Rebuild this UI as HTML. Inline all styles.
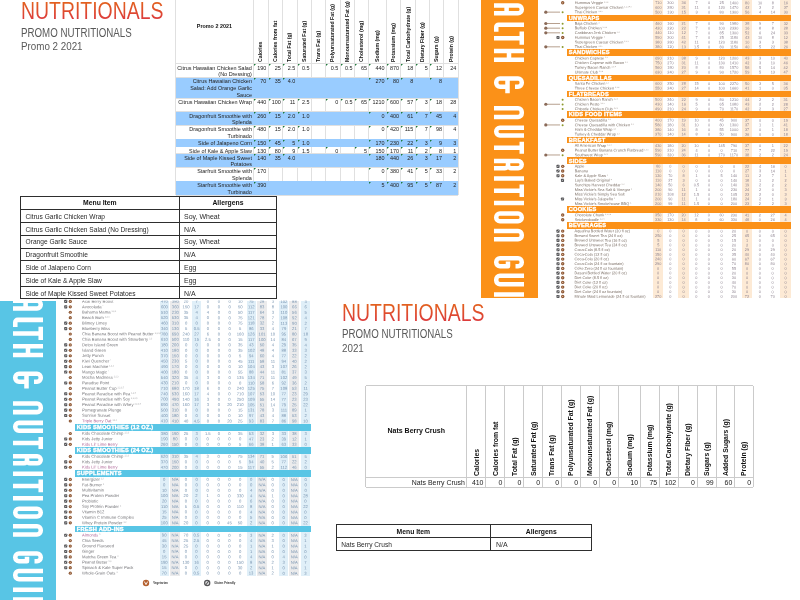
<!DOCTYPE html>
<html><head><meta charset="utf-8"><title>Nutritionals</title>
<style>
html,body{margin:0;padding:0;}
body{width:800px;height:600px;overflow:hidden;background:#fff;position:relative;font-family:"Liberation Sans",sans-serif;}
div{box-sizing:border-box;}
svg{position:absolute;left:0;top:0;}
.o{font-size:3.85px;fill:#8d8390;text-anchor:middle;}
.o .n{text-anchor:start;fill:#7a6d64;}
.o .s{text-anchor:start;fill:#7a6d64;font-size:1.93px;opacity:0.8;}
.m{font-size:4.2px;fill:#7894b0;text-anchor:middle;}
.m .n{text-anchor:start;fill:#77777b;}
.m .s{text-anchor:start;fill:#77777b;font-size:2.10px;opacity:0.8;}
</style></head><body><div id="wrap" style="position:absolute;left:0;top:0;width:800px;height:600px;overflow:hidden;will-change:transform;">
<div style="position:absolute;left:481.20px;top:0.00px;width:56.60px;height:298.00px;background:#fb9118;"></div>
<svg width="800" height="600" viewBox="0 0 800 600"><path d="M494.00 5.45 L518.05 5.45 C520.09 5.45 521.75 7.11 521.75 9.15 L521.75 9.65 C521.75 11.69 520.09 13.35 518.05 13.35 L494.00 13.35 M506.60 5.45 L506.60 13.35 M524.00 24.65 L498.65 24.65 C497.32 24.65 496.25 25.72 496.25 27.05 L496.25 31.80 M521.75 31.60 L521.75 44.80 M521.75 38.20 L494.00 38.20 M494.00 51.05 L524.00 51.05 M494.00 59.75 L524.00 59.75 M509.00 51.05 L509.00 59.75 M515.00 86.65 L518.05 86.65 C520.09 86.65 521.75 84.99 521.75 82.95 L521.75 82.25 C521.75 80.21 520.09 78.55 518.05 78.55 L499.95 78.55 C497.91 78.55 496.25 80.21 496.25 82.25 L496.25 82.95 C496.25 84.99 497.91 86.65 499.95 86.65 L507.50 86.65 M507.50 78.55 L507.50 93.20 M494.00 108.25 L518.05 108.25 C520.09 108.25 521.75 109.91 521.75 111.95 L521.75 113.25 C521.75 115.29 520.09 116.95 518.05 116.95 L494.00 116.95 M524.00 127.65 L499.95 127.65 C497.91 127.65 496.25 129.31 496.25 131.35 L496.25 131.85 C496.25 133.89 497.91 135.55 499.95 135.55 L524.00 135.55 M521.75 141.80 L521.75 153.80 M521.75 147.80 L494.00 147.80 M494.00 161.05 L518.20 161.05 C520.16 161.05 521.75 162.64 521.75 164.60 L521.75 164.60 C521.75 166.56 520.16 168.15 518.20 168.15 L511.00 168.15 C509.34 168.15 508.00 166.81 508.00 165.15 L508.00 161.05 M508.00 165.15 C508.00 166.81 506.66 168.15 505.00 168.15 L494.00 168.15 M494.00 178.45 L524.00 178.45 M521.75 184.40 L521.75 197.00 M521.75 190.70 L494.00 190.70 M494.00 203.05 L524.00 203.05 M509.00 213.45 L518.05 213.45 C520.09 213.45 521.75 215.11 521.75 217.15 L521.75 217.65 C521.75 219.69 520.09 221.35 518.05 221.35 L499.95 221.35 C497.91 221.35 496.25 219.69 496.25 217.65 L496.25 217.15 C496.25 215.11 497.91 213.45 499.95 213.45 L509.10 213.45 M494.00 231.05 L518.05 231.05 C520.09 231.05 521.75 232.71 521.75 234.75 L521.75 235.65 C521.75 237.69 520.09 239.35 518.05 239.35 L494.00 239.35 M515.50 266.15 L518.05 266.15 C520.09 266.15 521.75 264.49 521.75 262.45 L521.75 261.95 C521.75 259.91 520.09 258.25 518.05 258.25 L499.95 258.25 C497.91 258.25 496.25 259.91 496.25 261.95 L496.25 262.45 C496.25 264.49 497.91 266.15 499.95 266.15 L508.00 266.15 L508.00 261.60 M524.00 275.85 L499.95 275.85 C497.91 275.85 496.25 277.51 496.25 279.55 L496.25 280.45 C496.25 282.49 497.91 284.15 499.95 284.15 L524.00 284.15 M494.00 294.45 L524.00 294.45" fill="none" stroke="#fff" stroke-width="4.5" stroke-linejoin="round" stroke-linecap="butt"/></svg>
<div style="position:absolute;left:0.00px;top:300.50px;width:56.20px;height:299.50px;background:#58c5e5;"></div>
<svg width="800" height="600" viewBox="0 0 800 600"><defs><clipPath id="cb"><rect x="0" y="300.5" width="56.2" height="299.5"/></clipPath></defs><g clip-path="url(#cb)"><path d="M13.00 300.67 L37.03 300.67 C39.07 300.67 40.73 302.33 40.73 304.38 L40.73 304.82 C40.73 306.87 39.07 308.52 37.03 308.52 L13.00 308.52 M25.60 300.67 L25.60 308.52 M43.00 319.87 L17.68 319.87 C16.35 319.87 15.28 320.95 15.28 322.27 L15.28 327.00 M40.73 326.80 L40.73 340.00 M40.73 333.40 L13.00 333.40 M13.00 346.27 L43.00 346.27 M13.00 354.93 L43.00 354.93 M28.00 346.27 L28.00 354.93 M34.00 381.82 L37.03 381.82 C39.07 381.82 40.73 380.17 40.73 378.12 L40.73 377.48 C40.73 375.43 39.07 373.77 37.03 373.77 L18.98 373.77 C16.93 373.77 15.28 375.43 15.28 377.48 L15.28 378.12 C15.28 380.17 16.93 381.82 18.98 381.82 L26.50 381.82 M26.50 373.77 L26.50 388.40 M13.00 403.47 L37.03 403.47 C39.07 403.47 40.73 405.13 40.73 407.18 L40.73 408.43 C40.73 410.47 39.07 412.12 37.03 412.12 L13.00 412.12 M43.00 422.88 L18.98 422.88 C16.93 422.88 15.28 424.53 15.28 426.58 L15.28 427.03 C15.28 429.07 16.93 430.73 18.98 430.73 L43.00 430.73 M40.73 437.00 L40.73 449.00 M40.73 443.00 L13.00 443.00 M13.00 456.27 L37.20 456.27 C39.15 456.27 40.73 457.85 40.73 459.80 L40.73 459.80 C40.73 461.75 39.15 463.32 37.20 463.32 L30.00 463.32 C28.34 463.32 27.00 461.98 27.00 460.32 L27.00 456.27 M27.00 460.32 C27.00 461.98 25.66 463.32 24.00 463.32 L13.00 463.32 M13.00 473.67 L43.00 473.67 M40.73 479.60 L40.73 492.20 M40.73 485.90 L13.00 485.90 M13.00 498.27 L43.00 498.27 M28.00 508.67 L37.03 508.67 C39.07 508.67 40.73 510.33 40.73 512.38 L40.73 512.82 C40.73 514.87 39.07 516.52 37.03 516.52 L18.98 516.52 C16.93 516.52 15.28 514.87 15.28 512.82 L15.28 512.38 C15.28 510.33 16.93 508.67 18.98 508.67 L28.10 508.67 M13.00 526.27 L37.03 526.27 C39.07 526.27 40.73 527.93 40.73 529.98 L40.73 530.83 C40.73 532.87 39.07 534.52 37.03 534.52 L13.00 534.52 M34.50 561.33 L37.03 561.33 C39.07 561.33 40.73 559.67 40.73 557.62 L40.73 557.18 C40.73 555.13 39.07 553.48 37.03 553.48 L18.98 553.48 C16.93 553.48 15.28 555.13 15.28 557.18 L15.28 557.62 C15.28 559.67 16.93 561.33 18.98 561.33 L27.00 561.33 L27.00 556.80 M43.00 571.07 L18.98 571.07 C16.93 571.07 15.28 572.73 15.28 574.77 L15.28 575.62 C15.28 577.67 16.93 579.32 18.98 579.32 L43.00 579.32 M13.00 589.67 L43.00 589.67 M13.00 599.48 L43.00 599.48" fill="none" stroke="#fff" stroke-width="4.55" stroke-linejoin="round" stroke-linecap="butt"/></g></svg>
<div style="position:absolute;left:21.20px;transform-origin:0 0;top:-3.75px;font-size:24.60px;line-height:30.00px;color:#e0482a;white-space:nowrap;transform:scaleX(0.7898);background:linear-gradient(180deg,#e2601f 22%,#dc3a3c 78%);-webkit-background-clip:text;background-clip:text;color:transparent;">NUTRITIONALS</div>
<div style="position:absolute;left:21.20px;transform-origin:0 0;top:24.85px;font-size:12.10px;line-height:16.00px;color:#595959;white-space:nowrap;transform:scaleX(0.8040);">PROMO NUTRITIONALS</div>
<div style="position:absolute;left:21.20px;transform-origin:0 0;top:38.45px;font-size:11.40px;line-height:16.00px;color:#595959;white-space:nowrap;transform:scaleX(0.8600);">Promo 2 2021</div>
<div style="position:absolute;left:342.00px;transform-origin:0 0;top:297.50px;font-size:24.60px;line-height:30.00px;color:#e0482a;white-space:nowrap;transform:scaleX(0.7898);background:linear-gradient(180deg,#e2601f 22%,#dc3a3c 78%);-webkit-background-clip:text;background-clip:text;color:transparent;">NUTRITIONALS</div>
<div style="position:absolute;left:342.00px;transform-origin:0 0;top:326.10px;font-size:12.10px;line-height:16.00px;color:#595959;white-space:nowrap;transform:scaleX(0.8040);">PROMO NUTRITIONALS</div>
<div style="position:absolute;left:342.00px;transform-origin:0 0;top:339.70px;font-size:11.40px;line-height:16.00px;color:#595959;white-space:nowrap;transform:scaleX(0.8600);">2021</div>
<div style="position:absolute;left:175.25px;top:0.00px;width:0.70px;height:195.00px;background:#e0e0e0;"></div>
<div style="position:absolute;left:252.95px;top:0.00px;width:0.70px;height:195.00px;background:#e0e0e0;"></div>
<div style="position:absolute;left:267.65px;top:0.00px;width:0.70px;height:195.00px;background:#e0e0e0;"></div>
<div style="position:absolute;left:282.15px;top:0.00px;width:0.70px;height:195.00px;background:#e0e0e0;"></div>
<div style="position:absolute;left:296.65px;top:0.00px;width:0.70px;height:195.00px;background:#e0e0e0;"></div>
<div style="position:absolute;left:310.95px;top:0.00px;width:0.70px;height:195.00px;background:#e0e0e0;"></div>
<div style="position:absolute;left:325.25px;top:0.00px;width:0.70px;height:195.00px;background:#e0e0e0;"></div>
<div style="position:absolute;left:339.65px;top:0.00px;width:0.70px;height:195.00px;background:#e0e0e0;"></div>
<div style="position:absolute;left:353.95px;top:0.00px;width:0.70px;height:195.00px;background:#e0e0e0;"></div>
<div style="position:absolute;left:368.45px;top:0.00px;width:0.70px;height:195.00px;background:#e0e0e0;"></div>
<div style="position:absolute;left:385.95px;top:0.00px;width:0.70px;height:195.00px;background:#e0e0e0;"></div>
<div style="position:absolute;left:400.45px;top:0.00px;width:0.70px;height:195.00px;background:#e0e0e0;"></div>
<div style="position:absolute;left:414.65px;top:0.00px;width:0.70px;height:195.00px;background:#e0e0e0;"></div>
<div style="position:absolute;left:429.15px;top:0.00px;width:0.70px;height:195.00px;background:#e0e0e0;"></div>
<div style="position:absolute;left:443.45px;top:0.00px;width:0.70px;height:195.00px;background:#e0e0e0;"></div>
<div style="position:absolute;left:457.65px;top:0.00px;width:0.70px;height:195.00px;background:#e0e0e0;"></div>
<div style="position:absolute;left:175.60px;top:63.25px;width:282.40px;height:0.70px;background:#e0e0e0;"></div>
<div style="position:absolute;left:175.60px;top:77.15px;width:282.40px;height:0.70px;background:#e0e0e0;"></div>
<div style="position:absolute;left:175.60px;top:97.65px;width:282.40px;height:0.70px;background:#e0e0e0;"></div>
<div style="position:absolute;left:175.60px;top:111.25px;width:282.40px;height:0.70px;background:#e0e0e0;"></div>
<div style="position:absolute;left:175.60px;top:125.15px;width:282.40px;height:0.70px;background:#e0e0e0;"></div>
<div style="position:absolute;left:175.60px;top:139.05px;width:282.40px;height:0.70px;background:#e0e0e0;"></div>
<div style="position:absolute;left:175.60px;top:146.25px;width:282.40px;height:0.70px;background:#e0e0e0;"></div>
<div style="position:absolute;left:175.60px;top:153.25px;width:282.40px;height:0.70px;background:#e0e0e0;"></div>
<div style="position:absolute;left:175.60px;top:167.15px;width:282.40px;height:0.70px;background:#e0e0e0;"></div>
<div style="position:absolute;left:175.60px;top:180.95px;width:282.40px;height:0.70px;background:#e0e0e0;"></div>
<div style="position:absolute;left:175.60px;top:194.65px;width:282.40px;height:0.70px;background:#e0e0e0;"></div>
<div style="position:absolute;left:175.90px;top:77.50px;width:282.40px;height:20.50px;background:#99ccff;"></div>
<div style="position:absolute;left:175.90px;top:111.60px;width:282.40px;height:13.90px;background:#99ccff;"></div>
<div style="position:absolute;left:175.90px;top:139.40px;width:282.40px;height:7.20px;background:#99ccff;"></div>
<div style="position:absolute;left:175.90px;top:153.60px;width:282.40px;height:13.90px;background:#99ccff;"></div>
<div style="position:absolute;left:175.90px;top:181.30px;width:282.40px;height:13.70px;background:#99ccff;"></div>
<div style="position:absolute;right:548.10px;transform-origin:100% 0;top:64.55px;font-size:5.45px;line-height:6.85px;color:#222;white-space:nowrap;">Citrus Hawaiian Chicken Salad</div>
<div style="position:absolute;right:548.10px;transform-origin:100% 0;top:71.40px;font-size:5.45px;line-height:6.85px;color:#222;white-space:nowrap;">(No Dressing)</div>
<div style="position:absolute;right:533.70px;transform-origin:100% 0;top:64.55px;font-size:5.45px;line-height:6.85px;color:#222;white-space:nowrap;">190</div>
<div style="position:absolute;left:253.90px;top:64.40px;width:0;height:0;border-top:2.7px solid #1f7a3a;border-right:2.7px solid transparent;"></div>
<div style="position:absolute;right:519.20px;transform-origin:100% 0;top:64.55px;font-size:5.45px;line-height:6.85px;color:#222;white-space:nowrap;">25</div>
<div style="position:absolute;left:268.60px;top:64.40px;width:0;height:0;border-top:2.7px solid #1f7a3a;border-right:2.7px solid transparent;"></div>
<div style="position:absolute;right:504.70px;transform-origin:100% 0;top:64.55px;font-size:5.45px;line-height:6.85px;color:#222;white-space:nowrap;">2.5</div>
<div style="position:absolute;left:283.10px;top:64.40px;width:0;height:0;border-top:2.7px solid #1f7a3a;border-right:2.7px solid transparent;"></div>
<div style="position:absolute;right:490.40px;transform-origin:100% 0;top:64.55px;font-size:5.45px;line-height:6.85px;color:#222;white-space:nowrap;">0.5</div>
<div style="position:absolute;left:297.60px;top:64.40px;width:0;height:0;border-top:2.7px solid #1f7a3a;border-right:2.7px solid transparent;"></div>
<div style="position:absolute;right:461.70px;transform-origin:100% 0;top:64.55px;font-size:5.45px;line-height:6.85px;color:#222;white-space:nowrap;">0.5</div>
<div style="position:absolute;left:326.20px;top:64.40px;width:0;height:0;border-top:2.7px solid #1f7a3a;border-right:2.7px solid transparent;"></div>
<div style="position:absolute;right:447.40px;transform-origin:100% 0;top:64.55px;font-size:5.45px;line-height:6.85px;color:#222;white-space:nowrap;">0.5</div>
<div style="position:absolute;left:340.60px;top:64.40px;width:0;height:0;border-top:2.7px solid #1f7a3a;border-right:2.7px solid transparent;"></div>
<div style="position:absolute;right:432.90px;transform-origin:100% 0;top:64.55px;font-size:5.45px;line-height:6.85px;color:#222;white-space:nowrap;">65</div>
<div style="position:absolute;left:354.90px;top:64.40px;width:0;height:0;border-top:2.7px solid #1f7a3a;border-right:2.7px solid transparent;"></div>
<div style="position:absolute;right:415.40px;transform-origin:100% 0;top:64.55px;font-size:5.45px;line-height:6.85px;color:#222;white-space:nowrap;">440</div>
<div style="position:absolute;left:369.40px;top:64.40px;width:0;height:0;border-top:2.7px solid #1f7a3a;border-right:2.7px solid transparent;"></div>
<div style="position:absolute;right:400.90px;transform-origin:100% 0;top:64.55px;font-size:5.45px;line-height:6.85px;color:#222;white-space:nowrap;">870</div>
<div style="position:absolute;left:386.90px;top:64.40px;width:0;height:0;border-top:2.7px solid #1f7a3a;border-right:2.7px solid transparent;"></div>
<div style="position:absolute;right:386.70px;transform-origin:100% 0;top:64.55px;font-size:5.45px;line-height:6.85px;color:#222;white-space:nowrap;">18</div>
<div style="position:absolute;left:401.40px;top:64.40px;width:0;height:0;border-top:2.7px solid #1f7a3a;border-right:2.7px solid transparent;"></div>
<div style="position:absolute;right:372.20px;transform-origin:100% 0;top:64.55px;font-size:5.45px;line-height:6.85px;color:#222;white-space:nowrap;">5</div>
<div style="position:absolute;left:415.60px;top:64.40px;width:0;height:0;border-top:2.7px solid #1f7a3a;border-right:2.7px solid transparent;"></div>
<div style="position:absolute;right:357.90px;transform-origin:100% 0;top:64.55px;font-size:5.45px;line-height:6.85px;color:#222;white-space:nowrap;">12</div>
<div style="position:absolute;left:430.10px;top:64.40px;width:0;height:0;border-top:2.7px solid #1f7a3a;border-right:2.7px solid transparent;"></div>
<div style="position:absolute;right:343.70px;transform-origin:100% 0;top:64.55px;font-size:5.45px;line-height:6.85px;color:#222;white-space:nowrap;">24</div>
<div style="position:absolute;right:548.10px;transform-origin:100% 0;top:78.45px;font-size:5.45px;line-height:6.85px;color:#222;white-space:nowrap;">Citrus Hawaiian Chicken</div>
<div style="position:absolute;right:548.10px;transform-origin:100% 0;top:85.30px;font-size:5.45px;line-height:6.85px;color:#222;white-space:nowrap;">Salad: Add Orange Garlic</div>
<div style="position:absolute;right:548.10px;transform-origin:100% 0;top:92.15px;font-size:5.45px;line-height:6.85px;color:#222;white-space:nowrap;">Sauce</div>
<div style="position:absolute;right:533.70px;transform-origin:100% 0;top:78.45px;font-size:5.45px;line-height:6.85px;color:#222;white-space:nowrap;">70</div>
<div style="position:absolute;left:253.90px;top:78.30px;width:0;height:0;border-top:2.7px solid #1f7a3a;border-right:2.7px solid transparent;"></div>
<div style="position:absolute;right:519.20px;transform-origin:100% 0;top:78.45px;font-size:5.45px;line-height:6.85px;color:#222;white-space:nowrap;">35</div>
<div style="position:absolute;left:268.60px;top:78.30px;width:0;height:0;border-top:2.7px solid #1f7a3a;border-right:2.7px solid transparent;"></div>
<div style="position:absolute;right:504.70px;transform-origin:100% 0;top:78.45px;font-size:5.45px;line-height:6.85px;color:#222;white-space:nowrap;">4.0</div>
<div style="position:absolute;left:283.10px;top:78.30px;width:0;height:0;border-top:2.7px solid #1f7a3a;border-right:2.7px solid transparent;"></div>
<div style="position:absolute;right:415.40px;transform-origin:100% 0;top:78.45px;font-size:5.45px;line-height:6.85px;color:#222;white-space:nowrap;">270</div>
<div style="position:absolute;left:369.40px;top:78.30px;width:0;height:0;border-top:2.7px solid #1f7a3a;border-right:2.7px solid transparent;"></div>
<div style="position:absolute;right:400.90px;transform-origin:100% 0;top:78.45px;font-size:5.45px;line-height:6.85px;color:#222;white-space:nowrap;">80</div>
<div style="position:absolute;left:386.90px;top:78.30px;width:0;height:0;border-top:2.7px solid #1f7a3a;border-right:2.7px solid transparent;"></div>
<div style="position:absolute;right:386.70px;transform-origin:100% 0;top:78.45px;font-size:5.45px;line-height:6.85px;color:#222;white-space:nowrap;">8</div>
<div style="position:absolute;left:401.40px;top:78.30px;width:0;height:0;border-top:2.7px solid #1f7a3a;border-right:2.7px solid transparent;"></div>
<div style="position:absolute;right:357.90px;transform-origin:100% 0;top:78.45px;font-size:5.45px;line-height:6.85px;color:#222;white-space:nowrap;">8</div>
<div style="position:absolute;left:430.10px;top:78.30px;width:0;height:0;border-top:2.7px solid #1f7a3a;border-right:2.7px solid transparent;"></div>
<div style="position:absolute;right:548.10px;transform-origin:100% 0;top:98.95px;font-size:5.45px;line-height:6.85px;color:#222;white-space:nowrap;">Citrus Hawaiian Chicken Wrap</div>
<div style="position:absolute;right:533.70px;transform-origin:100% 0;top:98.95px;font-size:5.45px;line-height:6.85px;color:#222;white-space:nowrap;">440</div>
<div style="position:absolute;left:253.90px;top:98.80px;width:0;height:0;border-top:2.7px solid #1f7a3a;border-right:2.7px solid transparent;"></div>
<div style="position:absolute;right:519.20px;transform-origin:100% 0;top:98.95px;font-size:5.45px;line-height:6.85px;color:#222;white-space:nowrap;">100</div>
<div style="position:absolute;left:268.60px;top:98.80px;width:0;height:0;border-top:2.7px solid #1f7a3a;border-right:2.7px solid transparent;"></div>
<div style="position:absolute;right:504.70px;transform-origin:100% 0;top:98.95px;font-size:5.45px;line-height:6.85px;color:#222;white-space:nowrap;">11</div>
<div style="position:absolute;left:283.10px;top:98.80px;width:0;height:0;border-top:2.7px solid #1f7a3a;border-right:2.7px solid transparent;"></div>
<div style="position:absolute;right:490.40px;transform-origin:100% 0;top:98.95px;font-size:5.45px;line-height:6.85px;color:#222;white-space:nowrap;">2.5</div>
<div style="position:absolute;left:297.60px;top:98.80px;width:0;height:0;border-top:2.7px solid #1f7a3a;border-right:2.7px solid transparent;"></div>
<div style="position:absolute;right:461.70px;transform-origin:100% 0;top:98.95px;font-size:5.45px;line-height:6.85px;color:#222;white-space:nowrap;">0</div>
<div style="position:absolute;left:326.20px;top:98.80px;width:0;height:0;border-top:2.7px solid #1f7a3a;border-right:2.7px solid transparent;"></div>
<div style="position:absolute;right:447.40px;transform-origin:100% 0;top:98.95px;font-size:5.45px;line-height:6.85px;color:#222;white-space:nowrap;">0.5</div>
<div style="position:absolute;left:340.60px;top:98.80px;width:0;height:0;border-top:2.7px solid #1f7a3a;border-right:2.7px solid transparent;"></div>
<div style="position:absolute;right:432.90px;transform-origin:100% 0;top:98.95px;font-size:5.45px;line-height:6.85px;color:#222;white-space:nowrap;">65</div>
<div style="position:absolute;left:354.90px;top:98.80px;width:0;height:0;border-top:2.7px solid #1f7a3a;border-right:2.7px solid transparent;"></div>
<div style="position:absolute;right:415.40px;transform-origin:100% 0;top:98.95px;font-size:5.45px;line-height:6.85px;color:#222;white-space:nowrap;">1210</div>
<div style="position:absolute;left:369.40px;top:98.80px;width:0;height:0;border-top:2.7px solid #1f7a3a;border-right:2.7px solid transparent;"></div>
<div style="position:absolute;right:400.90px;transform-origin:100% 0;top:98.95px;font-size:5.45px;line-height:6.85px;color:#222;white-space:nowrap;">600</div>
<div style="position:absolute;left:386.90px;top:98.80px;width:0;height:0;border-top:2.7px solid #1f7a3a;border-right:2.7px solid transparent;"></div>
<div style="position:absolute;right:386.70px;transform-origin:100% 0;top:98.95px;font-size:5.45px;line-height:6.85px;color:#222;white-space:nowrap;">57</div>
<div style="position:absolute;left:401.40px;top:98.80px;width:0;height:0;border-top:2.7px solid #1f7a3a;border-right:2.7px solid transparent;"></div>
<div style="position:absolute;right:372.20px;transform-origin:100% 0;top:98.95px;font-size:5.45px;line-height:6.85px;color:#222;white-space:nowrap;">3</div>
<div style="position:absolute;left:415.60px;top:98.80px;width:0;height:0;border-top:2.7px solid #1f7a3a;border-right:2.7px solid transparent;"></div>
<div style="position:absolute;right:357.90px;transform-origin:100% 0;top:98.95px;font-size:5.45px;line-height:6.85px;color:#222;white-space:nowrap;">18</div>
<div style="position:absolute;left:430.10px;top:98.80px;width:0;height:0;border-top:2.7px solid #1f7a3a;border-right:2.7px solid transparent;"></div>
<div style="position:absolute;right:343.70px;transform-origin:100% 0;top:98.95px;font-size:5.45px;line-height:6.85px;color:#222;white-space:nowrap;">28</div>
<div style="position:absolute;right:548.10px;transform-origin:100% 0;top:112.55px;font-size:5.45px;line-height:6.85px;color:#222;white-space:nowrap;">Dragonfruit Smoothie with</div>
<div style="position:absolute;right:548.10px;transform-origin:100% 0;top:119.40px;font-size:5.45px;line-height:6.85px;color:#222;white-space:nowrap;">Splenda</div>
<div style="position:absolute;right:533.70px;transform-origin:100% 0;top:112.55px;font-size:5.45px;line-height:6.85px;color:#222;white-space:nowrap;">260</div>
<div style="position:absolute;left:253.90px;top:112.40px;width:0;height:0;border-top:2.7px solid #1f7a3a;border-right:2.7px solid transparent;"></div>
<div style="position:absolute;right:519.20px;transform-origin:100% 0;top:112.55px;font-size:5.45px;line-height:6.85px;color:#222;white-space:nowrap;">15</div>
<div style="position:absolute;left:268.60px;top:112.40px;width:0;height:0;border-top:2.7px solid #1f7a3a;border-right:2.7px solid transparent;"></div>
<div style="position:absolute;right:504.70px;transform-origin:100% 0;top:112.55px;font-size:5.45px;line-height:6.85px;color:#222;white-space:nowrap;">2.0</div>
<div style="position:absolute;left:283.10px;top:112.40px;width:0;height:0;border-top:2.7px solid #1f7a3a;border-right:2.7px solid transparent;"></div>
<div style="position:absolute;right:490.40px;transform-origin:100% 0;top:112.55px;font-size:5.45px;line-height:6.85px;color:#222;white-space:nowrap;">1.0</div>
<div style="position:absolute;left:297.60px;top:112.40px;width:0;height:0;border-top:2.7px solid #1f7a3a;border-right:2.7px solid transparent;"></div>
<div style="position:absolute;right:415.40px;transform-origin:100% 0;top:112.55px;font-size:5.45px;line-height:6.85px;color:#222;white-space:nowrap;">0</div>
<div style="position:absolute;left:369.40px;top:112.40px;width:0;height:0;border-top:2.7px solid #1f7a3a;border-right:2.7px solid transparent;"></div>
<div style="position:absolute;right:400.90px;transform-origin:100% 0;top:112.55px;font-size:5.45px;line-height:6.85px;color:#222;white-space:nowrap;">400</div>
<div style="position:absolute;left:386.90px;top:112.40px;width:0;height:0;border-top:2.7px solid #1f7a3a;border-right:2.7px solid transparent;"></div>
<div style="position:absolute;right:386.70px;transform-origin:100% 0;top:112.55px;font-size:5.45px;line-height:6.85px;color:#222;white-space:nowrap;">61</div>
<div style="position:absolute;left:401.40px;top:112.40px;width:0;height:0;border-top:2.7px solid #1f7a3a;border-right:2.7px solid transparent;"></div>
<div style="position:absolute;right:372.20px;transform-origin:100% 0;top:112.55px;font-size:5.45px;line-height:6.85px;color:#222;white-space:nowrap;">7</div>
<div style="position:absolute;left:415.60px;top:112.40px;width:0;height:0;border-top:2.7px solid #1f7a3a;border-right:2.7px solid transparent;"></div>
<div style="position:absolute;right:357.90px;transform-origin:100% 0;top:112.55px;font-size:5.45px;line-height:6.85px;color:#222;white-space:nowrap;">45</div>
<div style="position:absolute;left:430.10px;top:112.40px;width:0;height:0;border-top:2.7px solid #1f7a3a;border-right:2.7px solid transparent;"></div>
<div style="position:absolute;right:343.70px;transform-origin:100% 0;top:112.55px;font-size:5.45px;line-height:6.85px;color:#222;white-space:nowrap;">4</div>
<div style="position:absolute;right:548.10px;transform-origin:100% 0;top:126.45px;font-size:5.45px;line-height:6.85px;color:#222;white-space:nowrap;">Dragonfruit Smoothie with</div>
<div style="position:absolute;right:548.10px;transform-origin:100% 0;top:133.30px;font-size:5.45px;line-height:6.85px;color:#222;white-space:nowrap;">Turbinado</div>
<div style="position:absolute;right:533.70px;transform-origin:100% 0;top:126.45px;font-size:5.45px;line-height:6.85px;color:#222;white-space:nowrap;">480</div>
<div style="position:absolute;left:253.90px;top:126.30px;width:0;height:0;border-top:2.7px solid #1f7a3a;border-right:2.7px solid transparent;"></div>
<div style="position:absolute;right:519.20px;transform-origin:100% 0;top:126.45px;font-size:5.45px;line-height:6.85px;color:#222;white-space:nowrap;">15</div>
<div style="position:absolute;left:268.60px;top:126.30px;width:0;height:0;border-top:2.7px solid #1f7a3a;border-right:2.7px solid transparent;"></div>
<div style="position:absolute;right:504.70px;transform-origin:100% 0;top:126.45px;font-size:5.45px;line-height:6.85px;color:#222;white-space:nowrap;">2.0</div>
<div style="position:absolute;left:283.10px;top:126.30px;width:0;height:0;border-top:2.7px solid #1f7a3a;border-right:2.7px solid transparent;"></div>
<div style="position:absolute;right:490.40px;transform-origin:100% 0;top:126.45px;font-size:5.45px;line-height:6.85px;color:#222;white-space:nowrap;">1.0</div>
<div style="position:absolute;left:297.60px;top:126.30px;width:0;height:0;border-top:2.7px solid #1f7a3a;border-right:2.7px solid transparent;"></div>
<div style="position:absolute;right:415.40px;transform-origin:100% 0;top:126.45px;font-size:5.45px;line-height:6.85px;color:#222;white-space:nowrap;">0</div>
<div style="position:absolute;left:369.40px;top:126.30px;width:0;height:0;border-top:2.7px solid #1f7a3a;border-right:2.7px solid transparent;"></div>
<div style="position:absolute;right:400.90px;transform-origin:100% 0;top:126.45px;font-size:5.45px;line-height:6.85px;color:#222;white-space:nowrap;">420</div>
<div style="position:absolute;left:386.90px;top:126.30px;width:0;height:0;border-top:2.7px solid #1f7a3a;border-right:2.7px solid transparent;"></div>
<div style="position:absolute;right:386.70px;transform-origin:100% 0;top:126.45px;font-size:5.45px;line-height:6.85px;color:#222;white-space:nowrap;">115</div>
<div style="position:absolute;left:401.40px;top:126.30px;width:0;height:0;border-top:2.7px solid #1f7a3a;border-right:2.7px solid transparent;"></div>
<div style="position:absolute;right:372.20px;transform-origin:100% 0;top:126.45px;font-size:5.45px;line-height:6.85px;color:#222;white-space:nowrap;">7</div>
<div style="position:absolute;left:415.60px;top:126.30px;width:0;height:0;border-top:2.7px solid #1f7a3a;border-right:2.7px solid transparent;"></div>
<div style="position:absolute;right:357.90px;transform-origin:100% 0;top:126.45px;font-size:5.45px;line-height:6.85px;color:#222;white-space:nowrap;">98</div>
<div style="position:absolute;left:430.10px;top:126.30px;width:0;height:0;border-top:2.7px solid #1f7a3a;border-right:2.7px solid transparent;"></div>
<div style="position:absolute;right:343.70px;transform-origin:100% 0;top:126.45px;font-size:5.45px;line-height:6.85px;color:#222;white-space:nowrap;">4</div>
<div style="position:absolute;right:548.10px;transform-origin:100% 0;top:140.35px;font-size:5.45px;line-height:6.85px;color:#222;white-space:nowrap;">Side of Jalapeno Corn</div>
<div style="position:absolute;right:533.70px;transform-origin:100% 0;top:140.35px;font-size:5.45px;line-height:6.85px;color:#222;white-space:nowrap;">150</div>
<div style="position:absolute;left:253.90px;top:140.20px;width:0;height:0;border-top:2.7px solid #1f7a3a;border-right:2.7px solid transparent;"></div>
<div style="position:absolute;right:519.20px;transform-origin:100% 0;top:140.35px;font-size:5.45px;line-height:6.85px;color:#222;white-space:nowrap;">45</div>
<div style="position:absolute;left:268.60px;top:140.20px;width:0;height:0;border-top:2.7px solid #1f7a3a;border-right:2.7px solid transparent;"></div>
<div style="position:absolute;right:504.70px;transform-origin:100% 0;top:140.35px;font-size:5.45px;line-height:6.85px;color:#222;white-space:nowrap;">5</div>
<div style="position:absolute;left:283.10px;top:140.20px;width:0;height:0;border-top:2.7px solid #1f7a3a;border-right:2.7px solid transparent;"></div>
<div style="position:absolute;right:490.40px;transform-origin:100% 0;top:140.35px;font-size:5.45px;line-height:6.85px;color:#222;white-space:nowrap;">1.0</div>
<div style="position:absolute;left:297.60px;top:140.20px;width:0;height:0;border-top:2.7px solid #1f7a3a;border-right:2.7px solid transparent;"></div>
<div style="position:absolute;right:415.40px;transform-origin:100% 0;top:140.35px;font-size:5.45px;line-height:6.85px;color:#222;white-space:nowrap;">170</div>
<div style="position:absolute;left:369.40px;top:140.20px;width:0;height:0;border-top:2.7px solid #1f7a3a;border-right:2.7px solid transparent;"></div>
<div style="position:absolute;right:400.90px;transform-origin:100% 0;top:140.35px;font-size:5.45px;line-height:6.85px;color:#222;white-space:nowrap;">230</div>
<div style="position:absolute;left:386.90px;top:140.20px;width:0;height:0;border-top:2.7px solid #1f7a3a;border-right:2.7px solid transparent;"></div>
<div style="position:absolute;right:386.70px;transform-origin:100% 0;top:140.35px;font-size:5.45px;line-height:6.85px;color:#222;white-space:nowrap;">22</div>
<div style="position:absolute;left:401.40px;top:140.20px;width:0;height:0;border-top:2.7px solid #1f7a3a;border-right:2.7px solid transparent;"></div>
<div style="position:absolute;right:372.20px;transform-origin:100% 0;top:140.35px;font-size:5.45px;line-height:6.85px;color:#222;white-space:nowrap;">3</div>
<div style="position:absolute;left:415.60px;top:140.20px;width:0;height:0;border-top:2.7px solid #1f7a3a;border-right:2.7px solid transparent;"></div>
<div style="position:absolute;right:357.90px;transform-origin:100% 0;top:140.35px;font-size:5.45px;line-height:6.85px;color:#222;white-space:nowrap;">9</div>
<div style="position:absolute;left:430.10px;top:140.20px;width:0;height:0;border-top:2.7px solid #1f7a3a;border-right:2.7px solid transparent;"></div>
<div style="position:absolute;right:343.70px;transform-origin:100% 0;top:140.35px;font-size:5.45px;line-height:6.85px;color:#222;white-space:nowrap;">3</div>
<div style="position:absolute;right:548.10px;transform-origin:100% 0;top:147.55px;font-size:5.45px;line-height:6.85px;color:#222;white-space:nowrap;">Side of Kale &amp; Apple Slaw</div>
<div style="position:absolute;right:533.70px;transform-origin:100% 0;top:147.55px;font-size:5.45px;line-height:6.85px;color:#222;white-space:nowrap;">130</div>
<div style="position:absolute;left:253.90px;top:147.40px;width:0;height:0;border-top:2.7px solid #1f7a3a;border-right:2.7px solid transparent;"></div>
<div style="position:absolute;right:519.20px;transform-origin:100% 0;top:147.55px;font-size:5.45px;line-height:6.85px;color:#222;white-space:nowrap;">80</div>
<div style="position:absolute;left:268.60px;top:147.40px;width:0;height:0;border-top:2.7px solid #1f7a3a;border-right:2.7px solid transparent;"></div>
<div style="position:absolute;right:504.70px;transform-origin:100% 0;top:147.55px;font-size:5.45px;line-height:6.85px;color:#222;white-space:nowrap;">9</div>
<div style="position:absolute;left:283.10px;top:147.40px;width:0;height:0;border-top:2.7px solid #1f7a3a;border-right:2.7px solid transparent;"></div>
<div style="position:absolute;right:490.40px;transform-origin:100% 0;top:147.55px;font-size:5.45px;line-height:6.85px;color:#222;white-space:nowrap;">1.5</div>
<div style="position:absolute;left:297.60px;top:147.40px;width:0;height:0;border-top:2.7px solid #1f7a3a;border-right:2.7px solid transparent;"></div>
<div style="position:absolute;right:461.70px;transform-origin:100% 0;top:147.55px;font-size:5.45px;line-height:6.85px;color:#222;white-space:nowrap;">0</div>
<div style="position:absolute;left:326.20px;top:147.40px;width:0;height:0;border-top:2.7px solid #1f7a3a;border-right:2.7px solid transparent;"></div>
<div style="position:absolute;right:432.90px;transform-origin:100% 0;top:147.55px;font-size:5.45px;line-height:6.85px;color:#222;white-space:nowrap;">5</div>
<div style="position:absolute;left:354.90px;top:147.40px;width:0;height:0;border-top:2.7px solid #1f7a3a;border-right:2.7px solid transparent;"></div>
<div style="position:absolute;right:415.40px;transform-origin:100% 0;top:147.55px;font-size:5.45px;line-height:6.85px;color:#222;white-space:nowrap;">150</div>
<div style="position:absolute;left:369.40px;top:147.40px;width:0;height:0;border-top:2.7px solid #1f7a3a;border-right:2.7px solid transparent;"></div>
<div style="position:absolute;right:400.90px;transform-origin:100% 0;top:147.55px;font-size:5.45px;line-height:6.85px;color:#222;white-space:nowrap;">170</div>
<div style="position:absolute;left:386.90px;top:147.40px;width:0;height:0;border-top:2.7px solid #1f7a3a;border-right:2.7px solid transparent;"></div>
<div style="position:absolute;right:386.70px;transform-origin:100% 0;top:147.55px;font-size:5.45px;line-height:6.85px;color:#222;white-space:nowrap;">11</div>
<div style="position:absolute;left:401.40px;top:147.40px;width:0;height:0;border-top:2.7px solid #1f7a3a;border-right:2.7px solid transparent;"></div>
<div style="position:absolute;right:372.20px;transform-origin:100% 0;top:147.55px;font-size:5.45px;line-height:6.85px;color:#222;white-space:nowrap;">2</div>
<div style="position:absolute;left:415.60px;top:147.40px;width:0;height:0;border-top:2.7px solid #1f7a3a;border-right:2.7px solid transparent;"></div>
<div style="position:absolute;right:357.90px;transform-origin:100% 0;top:147.55px;font-size:5.45px;line-height:6.85px;color:#222;white-space:nowrap;">8</div>
<div style="position:absolute;left:430.10px;top:147.40px;width:0;height:0;border-top:2.7px solid #1f7a3a;border-right:2.7px solid transparent;"></div>
<div style="position:absolute;right:343.70px;transform-origin:100% 0;top:147.55px;font-size:5.45px;line-height:6.85px;color:#222;white-space:nowrap;">1</div>
<div style="position:absolute;right:548.10px;transform-origin:100% 0;top:154.55px;font-size:5.45px;line-height:6.85px;color:#222;white-space:nowrap;">Side of Maple Kissed Sweet</div>
<div style="position:absolute;right:548.10px;transform-origin:100% 0;top:161.40px;font-size:5.45px;line-height:6.85px;color:#222;white-space:nowrap;">Potatoes</div>
<div style="position:absolute;right:533.70px;transform-origin:100% 0;top:154.55px;font-size:5.45px;line-height:6.85px;color:#222;white-space:nowrap;">140</div>
<div style="position:absolute;left:253.90px;top:154.40px;width:0;height:0;border-top:2.7px solid #1f7a3a;border-right:2.7px solid transparent;"></div>
<div style="position:absolute;right:519.20px;transform-origin:100% 0;top:154.55px;font-size:5.45px;line-height:6.85px;color:#222;white-space:nowrap;">35</div>
<div style="position:absolute;left:268.60px;top:154.40px;width:0;height:0;border-top:2.7px solid #1f7a3a;border-right:2.7px solid transparent;"></div>
<div style="position:absolute;right:504.70px;transform-origin:100% 0;top:154.55px;font-size:5.45px;line-height:6.85px;color:#222;white-space:nowrap;">4.0</div>
<div style="position:absolute;left:283.10px;top:154.40px;width:0;height:0;border-top:2.7px solid #1f7a3a;border-right:2.7px solid transparent;"></div>
<div style="position:absolute;right:415.40px;transform-origin:100% 0;top:154.55px;font-size:5.45px;line-height:6.85px;color:#222;white-space:nowrap;">180</div>
<div style="position:absolute;left:369.40px;top:154.40px;width:0;height:0;border-top:2.7px solid #1f7a3a;border-right:2.7px solid transparent;"></div>
<div style="position:absolute;right:400.90px;transform-origin:100% 0;top:154.55px;font-size:5.45px;line-height:6.85px;color:#222;white-space:nowrap;">440</div>
<div style="position:absolute;left:386.90px;top:154.40px;width:0;height:0;border-top:2.7px solid #1f7a3a;border-right:2.7px solid transparent;"></div>
<div style="position:absolute;right:386.70px;transform-origin:100% 0;top:154.55px;font-size:5.45px;line-height:6.85px;color:#222;white-space:nowrap;">26</div>
<div style="position:absolute;left:401.40px;top:154.40px;width:0;height:0;border-top:2.7px solid #1f7a3a;border-right:2.7px solid transparent;"></div>
<div style="position:absolute;right:372.20px;transform-origin:100% 0;top:154.55px;font-size:5.45px;line-height:6.85px;color:#222;white-space:nowrap;">3</div>
<div style="position:absolute;left:415.60px;top:154.40px;width:0;height:0;border-top:2.7px solid #1f7a3a;border-right:2.7px solid transparent;"></div>
<div style="position:absolute;right:357.90px;transform-origin:100% 0;top:154.55px;font-size:5.45px;line-height:6.85px;color:#222;white-space:nowrap;">17</div>
<div style="position:absolute;left:430.10px;top:154.40px;width:0;height:0;border-top:2.7px solid #1f7a3a;border-right:2.7px solid transparent;"></div>
<div style="position:absolute;right:343.70px;transform-origin:100% 0;top:154.55px;font-size:5.45px;line-height:6.85px;color:#222;white-space:nowrap;">2</div>
<div style="position:absolute;right:548.10px;transform-origin:100% 0;top:168.45px;font-size:5.45px;line-height:6.85px;color:#222;white-space:nowrap;">Starfruit Smoothie with</div>
<div style="position:absolute;right:548.10px;transform-origin:100% 0;top:175.30px;font-size:5.45px;line-height:6.85px;color:#222;white-space:nowrap;">Splenda</div>
<div style="position:absolute;right:533.70px;transform-origin:100% 0;top:168.45px;font-size:5.45px;line-height:6.85px;color:#222;white-space:nowrap;">170</div>
<div style="position:absolute;left:253.90px;top:168.30px;width:0;height:0;border-top:2.7px solid #1f7a3a;border-right:2.7px solid transparent;"></div>
<div style="position:absolute;right:415.40px;transform-origin:100% 0;top:168.45px;font-size:5.45px;line-height:6.85px;color:#222;white-space:nowrap;">0</div>
<div style="position:absolute;left:369.40px;top:168.30px;width:0;height:0;border-top:2.7px solid #1f7a3a;border-right:2.7px solid transparent;"></div>
<div style="position:absolute;right:400.90px;transform-origin:100% 0;top:168.45px;font-size:5.45px;line-height:6.85px;color:#222;white-space:nowrap;">380</div>
<div style="position:absolute;left:386.90px;top:168.30px;width:0;height:0;border-top:2.7px solid #1f7a3a;border-right:2.7px solid transparent;"></div>
<div style="position:absolute;right:386.70px;transform-origin:100% 0;top:168.45px;font-size:5.45px;line-height:6.85px;color:#222;white-space:nowrap;">41</div>
<div style="position:absolute;left:401.40px;top:168.30px;width:0;height:0;border-top:2.7px solid #1f7a3a;border-right:2.7px solid transparent;"></div>
<div style="position:absolute;right:372.20px;transform-origin:100% 0;top:168.45px;font-size:5.45px;line-height:6.85px;color:#222;white-space:nowrap;">5</div>
<div style="position:absolute;left:415.60px;top:168.30px;width:0;height:0;border-top:2.7px solid #1f7a3a;border-right:2.7px solid transparent;"></div>
<div style="position:absolute;right:357.90px;transform-origin:100% 0;top:168.45px;font-size:5.45px;line-height:6.85px;color:#222;white-space:nowrap;">33</div>
<div style="position:absolute;left:430.10px;top:168.30px;width:0;height:0;border-top:2.7px solid #1f7a3a;border-right:2.7px solid transparent;"></div>
<div style="position:absolute;right:343.70px;transform-origin:100% 0;top:168.45px;font-size:5.45px;line-height:6.85px;color:#222;white-space:nowrap;">2</div>
<div style="position:absolute;right:548.10px;transform-origin:100% 0;top:182.25px;font-size:5.45px;line-height:6.85px;color:#222;white-space:nowrap;">Starfruit Smoothie with</div>
<div style="position:absolute;right:548.10px;transform-origin:100% 0;top:189.10px;font-size:5.45px;line-height:6.85px;color:#222;white-space:nowrap;">Turbinado</div>
<div style="position:absolute;right:533.70px;transform-origin:100% 0;top:182.25px;font-size:5.45px;line-height:6.85px;color:#222;white-space:nowrap;">390</div>
<div style="position:absolute;left:253.90px;top:182.10px;width:0;height:0;border-top:2.7px solid #1f7a3a;border-right:2.7px solid transparent;"></div>
<div style="position:absolute;right:415.40px;transform-origin:100% 0;top:182.25px;font-size:5.45px;line-height:6.85px;color:#222;white-space:nowrap;">5</div>
<div style="position:absolute;left:369.40px;top:182.10px;width:0;height:0;border-top:2.7px solid #1f7a3a;border-right:2.7px solid transparent;"></div>
<div style="position:absolute;right:400.90px;transform-origin:100% 0;top:182.25px;font-size:5.45px;line-height:6.85px;color:#222;white-space:nowrap;">400</div>
<div style="position:absolute;left:386.90px;top:182.10px;width:0;height:0;border-top:2.7px solid #1f7a3a;border-right:2.7px solid transparent;"></div>
<div style="position:absolute;right:386.70px;transform-origin:100% 0;top:182.25px;font-size:5.45px;line-height:6.85px;color:#222;white-space:nowrap;">95</div>
<div style="position:absolute;left:401.40px;top:182.10px;width:0;height:0;border-top:2.7px solid #1f7a3a;border-right:2.7px solid transparent;"></div>
<div style="position:absolute;right:372.20px;transform-origin:100% 0;top:182.25px;font-size:5.45px;line-height:6.85px;color:#222;white-space:nowrap;">5</div>
<div style="position:absolute;left:415.60px;top:182.10px;width:0;height:0;border-top:2.7px solid #1f7a3a;border-right:2.7px solid transparent;"></div>
<div style="position:absolute;right:357.90px;transform-origin:100% 0;top:182.25px;font-size:5.45px;line-height:6.85px;color:#222;white-space:nowrap;">87</div>
<div style="position:absolute;left:430.10px;top:182.10px;width:0;height:0;border-top:2.7px solid #1f7a3a;border-right:2.7px solid transparent;"></div>
<div style="position:absolute;right:343.70px;transform-origin:100% 0;top:182.25px;font-size:5.45px;line-height:6.85px;color:#222;white-space:nowrap;">2</div>
<div style="position:absolute;left:146.84px;width:135.12px;text-align:center;transform-origin:50% 0;top:23.10px;font-size:5.40px;line-height:6.60px;color:#111;white-space:nowrap;font-weight:bold;">Promo 2 2021</div>
<div style="position:absolute;left:257.26px;top:61.60px;font-size:5.20px;line-height:5.98px;color:#111;white-space:nowrap;font-weight:bold;transform-origin:0 0;transform:rotate(-90deg) scaleX(1.0000);">Calories</div>
<div style="position:absolute;left:271.86px;top:61.60px;font-size:5.20px;line-height:5.98px;color:#111;white-space:nowrap;font-weight:bold;transform-origin:0 0;transform:rotate(-90deg) scaleX(1.0000);">Calories from fat</div>
<div style="position:absolute;left:286.36px;top:61.60px;font-size:5.20px;line-height:5.98px;color:#111;white-space:nowrap;font-weight:bold;transform-origin:0 0;transform:rotate(-90deg) scaleX(1.0000);">Total Fat (g)</div>
<div style="position:absolute;left:300.76px;top:61.60px;font-size:5.20px;line-height:5.98px;color:#111;white-space:nowrap;font-weight:bold;transform-origin:0 0;transform:rotate(-90deg) scaleX(1.0000);">Saturated Fat (g)</div>
<div style="position:absolute;left:315.06px;top:61.60px;font-size:5.20px;line-height:5.98px;color:#111;white-space:nowrap;font-weight:bold;transform-origin:0 0;transform:rotate(-90deg) scaleX(1.0000);">Trans Fat (g)</div>
<div style="position:absolute;left:329.41px;top:61.60px;font-size:5.20px;line-height:5.98px;color:#111;white-space:nowrap;font-weight:bold;transform-origin:0 0;transform:rotate(-90deg) scaleX(1.0000);">Polyunsaturated Fat (g)</div>
<div style="position:absolute;left:343.76px;top:61.60px;font-size:5.20px;line-height:5.98px;color:#111;white-space:nowrap;font-weight:bold;transform-origin:0 0;transform:rotate(-90deg) scaleX(1.0000);">Monounsaturated Fat (g)</div>
<div style="position:absolute;left:358.16px;top:61.60px;font-size:5.20px;line-height:5.98px;color:#111;white-space:nowrap;font-weight:bold;transform-origin:0 0;transform:rotate(-90deg) scaleX(1.0000);">Cholesterol (mg)</div>
<div style="position:absolute;left:374.16px;top:61.60px;font-size:5.20px;line-height:5.98px;color:#111;white-space:nowrap;font-weight:bold;transform-origin:0 0;transform:rotate(-90deg) scaleX(1.0000);">Sodium (mg)</div>
<div style="position:absolute;left:390.16px;top:61.60px;font-size:5.20px;line-height:5.98px;color:#111;white-space:nowrap;font-weight:bold;transform-origin:0 0;transform:rotate(-90deg) scaleX(1.0000);">Potassium (mg)</div>
<div style="position:absolute;left:404.51px;top:61.60px;font-size:5.20px;line-height:5.98px;color:#111;white-space:nowrap;font-weight:bold;transform-origin:0 0;transform:rotate(-90deg) scaleX(1.0000);">Total Carbohydrate (g)</div>
<div style="position:absolute;left:418.86px;top:61.60px;font-size:5.20px;line-height:5.98px;color:#111;white-space:nowrap;font-weight:bold;transform-origin:0 0;transform:rotate(-90deg) scaleX(1.0000);">Dietary Fiber (g)</div>
<div style="position:absolute;left:433.26px;top:61.60px;font-size:5.20px;line-height:5.98px;color:#111;white-space:nowrap;font-weight:bold;transform-origin:0 0;transform:rotate(-90deg) scaleX(1.0000);">Sugars (g)</div>
<div style="position:absolute;left:447.51px;top:61.60px;font-size:5.20px;line-height:5.98px;color:#111;white-space:nowrap;font-weight:bold;transform-origin:0 0;transform:rotate(-90deg) scaleX(1.0000);">Protein (g)</div>
<div style="position:absolute;left:19.90px;top:196.10px;width:257.20px;height:1.00px;background:#2e2e2e;"></div>
<div style="position:absolute;left:19.90px;top:208.90px;width:257.20px;height:1.00px;background:#2e2e2e;"></div>
<div style="position:absolute;left:19.90px;top:221.90px;width:257.20px;height:1.00px;background:#2e2e2e;"></div>
<div style="position:absolute;left:19.90px;top:234.70px;width:257.20px;height:1.00px;background:#2e2e2e;"></div>
<div style="position:absolute;left:19.90px;top:247.50px;width:257.20px;height:1.00px;background:#2e2e2e;"></div>
<div style="position:absolute;left:19.90px;top:260.30px;width:257.20px;height:1.00px;background:#2e2e2e;"></div>
<div style="position:absolute;left:19.90px;top:273.10px;width:257.20px;height:1.00px;background:#2e2e2e;"></div>
<div style="position:absolute;left:19.90px;top:285.90px;width:257.20px;height:1.00px;background:#2e2e2e;"></div>
<div style="position:absolute;left:19.90px;top:298.30px;width:257.20px;height:1.00px;background:#2e2e2e;"></div>
<div style="position:absolute;left:19.90px;top:196.60px;width:1.00px;height:102.20px;background:#2e2e2e;"></div>
<div style="position:absolute;left:178.80px;top:196.60px;width:1.00px;height:102.20px;background:#2e2e2e;"></div>
<div style="position:absolute;left:276.10px;top:196.60px;width:1.00px;height:102.20px;background:#2e2e2e;"></div>
<div style="position:absolute;left:33.04px;width:133.63px;text-align:center;transform-origin:50% 0;top:199.39px;font-size:6.80px;line-height:7.82px;color:#111;white-space:nowrap;font-weight:bold;">Menu Item</div>
<div style="position:absolute;left:162.46px;width:130.99px;text-align:center;transform-origin:50% 0;top:199.39px;font-size:6.80px;line-height:7.82px;color:#111;white-space:nowrap;font-weight:bold;">Allergens</div>
<div style="position:absolute;left:25.60px;transform-origin:0 0;top:212.51px;font-size:6.60px;line-height:7.59px;color:#2a2a2a;white-space:nowrap;">Citrus Garlic Chicken Wrap</div>
<div style="position:absolute;left:184.30px;transform-origin:0 0;top:212.51px;font-size:6.60px;line-height:7.59px;color:#2a2a2a;white-space:nowrap;transform:scaleX(1.0600);">Soy, Wheat</div>
<div style="position:absolute;left:25.60px;transform-origin:0 0;top:225.51px;font-size:6.60px;line-height:7.59px;color:#2a2a2a;white-space:nowrap;">Citrus Garlic Chicken Salad (No Dressing)</div>
<div style="position:absolute;left:184.30px;transform-origin:0 0;top:225.51px;font-size:6.60px;line-height:7.59px;color:#2a2a2a;white-space:nowrap;transform:scaleX(1.0600);">N/A</div>
<div style="position:absolute;left:25.60px;transform-origin:0 0;top:238.31px;font-size:6.60px;line-height:7.59px;color:#2a2a2a;white-space:nowrap;">Orange Garlic Sauce</div>
<div style="position:absolute;left:184.30px;transform-origin:0 0;top:238.31px;font-size:6.60px;line-height:7.59px;color:#2a2a2a;white-space:nowrap;transform:scaleX(1.0600);">Soy, Wheat</div>
<div style="position:absolute;left:25.60px;transform-origin:0 0;top:251.11px;font-size:6.60px;line-height:7.59px;color:#2a2a2a;white-space:nowrap;">Dragonfruit Smoothie</div>
<div style="position:absolute;left:184.30px;transform-origin:0 0;top:251.11px;font-size:6.60px;line-height:7.59px;color:#2a2a2a;white-space:nowrap;transform:scaleX(1.0600);">N/A</div>
<div style="position:absolute;left:25.60px;transform-origin:0 0;top:263.91px;font-size:6.60px;line-height:7.59px;color:#2a2a2a;white-space:nowrap;">Side of Jalapeno Corn</div>
<div style="position:absolute;left:184.30px;transform-origin:0 0;top:263.91px;font-size:6.60px;line-height:7.59px;color:#2a2a2a;white-space:nowrap;transform:scaleX(1.0600);">Egg</div>
<div style="position:absolute;left:25.60px;transform-origin:0 0;top:276.71px;font-size:6.60px;line-height:7.59px;color:#2a2a2a;white-space:nowrap;">Side of Kale &amp; Apple Slaw</div>
<div style="position:absolute;left:184.30px;transform-origin:0 0;top:276.71px;font-size:6.60px;line-height:7.59px;color:#2a2a2a;white-space:nowrap;transform:scaleX(1.0600);">Egg</div>
<div style="position:absolute;left:25.60px;transform-origin:0 0;top:289.50px;font-size:6.60px;line-height:7.59px;color:#2a2a2a;white-space:nowrap;">Side of Maple Kissed Sweet Potatoes</div>
<div style="position:absolute;left:184.30px;transform-origin:0 0;top:289.50px;font-size:6.60px;line-height:7.59px;color:#2a2a2a;white-space:nowrap;transform:scaleX(1.0600);">N/A</div>
<div style="position:absolute;left:335.60px;top:524.30px;width:256.80px;height:1.00px;background:#2e2e2e;"></div>
<div style="position:absolute;left:335.60px;top:537.00px;width:256.80px;height:1.00px;background:#2e2e2e;"></div>
<div style="position:absolute;left:335.60px;top:549.50px;width:256.80px;height:1.00px;background:#2e2e2e;"></div>
<div style="position:absolute;left:335.60px;top:524.80px;width:1.00px;height:25.20px;background:#2e2e2e;"></div>
<div style="position:absolute;left:490.10px;top:524.80px;width:1.00px;height:25.20px;background:#2e2e2e;"></div>
<div style="position:absolute;left:591.40px;top:524.80px;width:1.00px;height:25.20px;background:#2e2e2e;"></div>
<div style="position:absolute;left:346.54px;width:133.63px;text-align:center;transform-origin:50% 0;top:527.54px;font-size:6.80px;line-height:7.82px;color:#111;white-space:nowrap;font-weight:bold;">Menu Item</div>
<div style="position:absolute;left:475.76px;width:130.99px;text-align:center;transform-origin:50% 0;top:527.54px;font-size:6.80px;line-height:7.82px;color:#111;white-space:nowrap;font-weight:bold;">Allergens</div>
<div style="position:absolute;left:341.30px;transform-origin:0 0;top:540.56px;font-size:6.60px;line-height:7.59px;color:#2a2a2a;white-space:nowrap;">Nats Berry Crush</div>
<div style="position:absolute;left:495.60px;transform-origin:0 0;top:540.56px;font-size:6.60px;line-height:7.59px;color:#2a2a2a;white-space:nowrap;transform:scaleX(1.0600);">N/A</div>
<div style="position:absolute;left:365.30px;top:385.50px;width:0.90px;height:101.60px;background:#cbcbcb;"></div>
<div style="position:absolute;left:466.30px;top:385.50px;width:0.90px;height:101.60px;background:#cbcbcb;"></div>
<div style="position:absolute;left:485.30px;top:385.50px;width:0.90px;height:101.60px;background:#cbcbcb;"></div>
<div style="position:absolute;left:504.30px;top:385.50px;width:0.90px;height:101.60px;background:#cbcbcb;"></div>
<div style="position:absolute;left:523.30px;top:385.50px;width:0.90px;height:101.60px;background:#cbcbcb;"></div>
<div style="position:absolute;left:542.05px;top:385.50px;width:0.90px;height:101.60px;background:#cbcbcb;"></div>
<div style="position:absolute;left:561.05px;top:385.50px;width:0.90px;height:101.60px;background:#cbcbcb;"></div>
<div style="position:absolute;left:580.05px;top:385.50px;width:0.90px;height:101.60px;background:#cbcbcb;"></div>
<div style="position:absolute;left:599.05px;top:385.50px;width:0.90px;height:101.60px;background:#cbcbcb;"></div>
<div style="position:absolute;left:618.05px;top:385.50px;width:0.90px;height:101.60px;background:#cbcbcb;"></div>
<div style="position:absolute;left:640.05px;top:385.50px;width:0.90px;height:101.60px;background:#cbcbcb;"></div>
<div style="position:absolute;left:658.95px;top:385.50px;width:0.90px;height:101.60px;background:#cbcbcb;"></div>
<div style="position:absolute;left:678.05px;top:385.50px;width:0.90px;height:101.60px;background:#cbcbcb;"></div>
<div style="position:absolute;left:696.75px;top:385.50px;width:0.90px;height:101.60px;background:#cbcbcb;"></div>
<div style="position:absolute;left:715.55px;top:385.50px;width:0.90px;height:101.60px;background:#cbcbcb;"></div>
<div style="position:absolute;left:734.15px;top:385.50px;width:0.90px;height:101.60px;background:#cbcbcb;"></div>
<div style="position:absolute;left:752.85px;top:385.50px;width:0.90px;height:101.60px;background:#cbcbcb;"></div>
<div style="position:absolute;left:365.75px;top:385.05px;width:387.55px;height:0.90px;background:#cbcbcb;"></div>
<div style="position:absolute;left:365.75px;top:477.05px;width:387.55px;height:0.90px;background:#cbcbcb;"></div>
<div style="position:absolute;left:365.75px;top:486.65px;width:387.55px;height:0.90px;background:#cbcbcb;"></div>
<div style="position:absolute;left:472.71px;top:475.60px;font-size:6.85px;line-height:7.88px;color:#111;white-space:nowrap;font-weight:bold;transform-origin:0 0;transform:rotate(-90deg) scaleX(1.0000);">Calories</div>
<div style="position:absolute;left:491.71px;top:475.60px;font-size:6.85px;line-height:7.88px;color:#111;white-space:nowrap;font-weight:bold;transform-origin:0 0;transform:rotate(-90deg) scaleX(1.0000);">Calories from fat</div>
<div style="position:absolute;left:510.71px;top:475.60px;font-size:6.85px;line-height:7.88px;color:#111;white-space:nowrap;font-weight:bold;transform-origin:0 0;transform:rotate(-90deg) scaleX(1.0000);">Total Fat (g)</div>
<div style="position:absolute;left:529.59px;top:475.60px;font-size:6.85px;line-height:7.88px;color:#111;white-space:nowrap;font-weight:bold;transform-origin:0 0;transform:rotate(-90deg) scaleX(1.0000);">Saturated Fat (g)</div>
<div style="position:absolute;left:548.46px;top:475.60px;font-size:6.85px;line-height:7.88px;color:#111;white-space:nowrap;font-weight:bold;transform-origin:0 0;transform:rotate(-90deg) scaleX(1.0000);">Trans Fat (g)</div>
<div style="position:absolute;left:567.46px;top:475.60px;font-size:6.85px;line-height:7.88px;color:#111;white-space:nowrap;font-weight:bold;transform-origin:0 0;transform:rotate(-90deg) scaleX(1.0000);">Polyunsaturated Fat (g)</div>
<div style="position:absolute;left:586.46px;top:475.60px;font-size:6.85px;line-height:7.88px;color:#111;white-space:nowrap;font-weight:bold;transform-origin:0 0;transform:rotate(-90deg) scaleX(1.0000);">Monounsaturated Fat (g)</div>
<div style="position:absolute;left:605.46px;top:475.60px;font-size:6.85px;line-height:7.88px;color:#111;white-space:nowrap;font-weight:bold;transform-origin:0 0;transform:rotate(-90deg) scaleX(1.0000);">Cholesterol (mg)</div>
<div style="position:absolute;left:625.96px;top:475.60px;font-size:6.85px;line-height:7.88px;color:#111;white-space:nowrap;font-weight:bold;transform-origin:0 0;transform:rotate(-90deg) scaleX(1.0000);">Sodium (mg)</div>
<div style="position:absolute;left:646.41px;top:475.60px;font-size:6.85px;line-height:7.88px;color:#111;white-space:nowrap;font-weight:bold;transform-origin:0 0;transform:rotate(-90deg) scaleX(1.0000);">Potassium (mg)</div>
<div style="position:absolute;left:665.41px;top:475.60px;font-size:6.85px;line-height:7.88px;color:#111;white-space:nowrap;font-weight:bold;transform-origin:0 0;transform:rotate(-90deg) scaleX(1.0000);">Total Carbohydrate (g)</div>
<div style="position:absolute;left:684.31px;top:475.60px;font-size:6.85px;line-height:7.88px;color:#111;white-space:nowrap;font-weight:bold;transform-origin:0 0;transform:rotate(-90deg) scaleX(1.0000);">Dietary Fiber (g)</div>
<div style="position:absolute;left:703.06px;top:475.60px;font-size:6.85px;line-height:7.88px;color:#111;white-space:nowrap;font-weight:bold;transform-origin:0 0;transform:rotate(-90deg) scaleX(1.0000);">Sugars (g)</div>
<div style="position:absolute;left:721.76px;top:475.60px;font-size:6.85px;line-height:7.88px;color:#111;white-space:nowrap;font-weight:bold;transform-origin:0 0;transform:rotate(-90deg) scaleX(1.0000);">Added Sugars (g)</div>
<div style="position:absolute;left:740.41px;top:475.60px;font-size:6.85px;line-height:7.88px;color:#111;white-space:nowrap;font-weight:bold;transform-origin:0 0;transform:rotate(-90deg) scaleX(1.0000);">Protein (g)</div>
<div style="position:absolute;left:337.46px;width:157.58px;text-align:center;transform-origin:50% 0;top:427.30px;font-size:7.00px;line-height:8.05px;color:#111;white-space:nowrap;font-weight:bold;">Nats Berry Crush</div>
<div style="position:absolute;right:335.05px;transform-origin:100% 0;top:479.00px;font-size:6.95px;line-height:7.99px;color:#222;white-space:nowrap;">Nats Berry Crush</div>
<div style="position:absolute;right:316.55px;transform-origin:100% 0;top:479.00px;font-size:6.95px;line-height:7.99px;color:#222;white-space:nowrap;">410</div>
<div style="position:absolute;right:297.55px;transform-origin:100% 0;top:479.00px;font-size:6.95px;line-height:7.99px;color:#222;white-space:nowrap;">0</div>
<div style="position:absolute;right:278.55px;transform-origin:100% 0;top:479.00px;font-size:6.95px;line-height:7.99px;color:#222;white-space:nowrap;">0</div>
<div style="position:absolute;right:259.80px;transform-origin:100% 0;top:479.00px;font-size:6.95px;line-height:7.99px;color:#222;white-space:nowrap;">0</div>
<div style="position:absolute;right:240.80px;transform-origin:100% 0;top:479.00px;font-size:6.95px;line-height:7.99px;color:#222;white-space:nowrap;">0</div>
<div style="position:absolute;right:221.80px;transform-origin:100% 0;top:479.00px;font-size:6.95px;line-height:7.99px;color:#222;white-space:nowrap;">0</div>
<div style="position:absolute;right:202.80px;transform-origin:100% 0;top:479.00px;font-size:6.95px;line-height:7.99px;color:#222;white-space:nowrap;">0</div>
<div style="position:absolute;right:183.80px;transform-origin:100% 0;top:479.00px;font-size:6.95px;line-height:7.99px;color:#222;white-space:nowrap;">0</div>
<div style="position:absolute;right:161.80px;transform-origin:100% 0;top:479.00px;font-size:6.95px;line-height:7.99px;color:#222;white-space:nowrap;">10</div>
<div style="position:absolute;right:142.90px;transform-origin:100% 0;top:479.00px;font-size:6.95px;line-height:7.99px;color:#222;white-space:nowrap;">75</div>
<div style="position:absolute;right:123.80px;transform-origin:100% 0;top:479.00px;font-size:6.95px;line-height:7.99px;color:#222;white-space:nowrap;">102</div>
<div style="position:absolute;right:105.10px;transform-origin:100% 0;top:479.00px;font-size:6.95px;line-height:7.99px;color:#222;white-space:nowrap;">0</div>
<div style="position:absolute;right:86.30px;transform-origin:100% 0;top:479.00px;font-size:6.95px;line-height:7.99px;color:#222;white-space:nowrap;">99</div>
<div style="position:absolute;right:67.70px;transform-origin:100% 0;top:479.00px;font-size:6.95px;line-height:7.99px;color:#222;white-space:nowrap;">60</div>
<div style="position:absolute;right:49.00px;transform-origin:100% 0;top:479.00px;font-size:6.95px;line-height:7.99px;color:#222;white-space:nowrap;">0</div>
<div style="position:absolute;left:653.20px;top:0.00px;width:10.20px;height:298.20px;background:#fdead5;"></div>
<div style="position:absolute;left:678.40px;top:0.00px;width:10.60px;height:298.20px;background:#fdead5;"></div>
<div style="position:absolute;left:742.00px;top:0.00px;width:10.20px;height:298.20px;background:#fdead5;"></div>
<div style="position:absolute;left:780.20px;top:0.00px;width:10.80px;height:298.20px;background:#fdead5;"></div>
<div style="position:absolute;left:567.20px;top:14.59px;width:223.80px;height:6.40px;background:#fb9118;"></div>
<div style="position:absolute;left:568.80px;transform-origin:0 0;top:14.66px;font-size:5.70px;line-height:6.55px;color:#fff;white-space:nowrap;font-weight:bold;letter-spacing:0.2px;-webkit-text-stroke:0.35px #fff;">UNWRAPS</div>
<div style="position:absolute;left:567.20px;top:49.29px;width:223.80px;height:6.40px;background:#fb9118;"></div>
<div style="position:absolute;left:568.80px;transform-origin:0 0;top:49.36px;font-size:5.70px;line-height:6.55px;color:#fff;white-space:nowrap;font-weight:bold;letter-spacing:0.2px;-webkit-text-stroke:0.35px #fff;">SANDWICHES</div>
<div style="position:absolute;left:567.20px;top:74.65px;width:223.80px;height:6.40px;background:#fb9118;"></div>
<div style="position:absolute;left:568.80px;transform-origin:0 0;top:74.72px;font-size:5.70px;line-height:6.55px;color:#fff;white-space:nowrap;font-weight:bold;letter-spacing:0.2px;-webkit-text-stroke:0.35px #fff;">QUESADILLAS</div>
<div style="position:absolute;left:567.20px;top:90.68px;width:223.80px;height:6.40px;background:#fb9118;"></div>
<div style="position:absolute;left:568.80px;transform-origin:0 0;top:90.75px;font-size:5.70px;line-height:6.55px;color:#fff;white-space:nowrap;font-weight:bold;letter-spacing:0.2px;-webkit-text-stroke:0.35px #fff;">FLATBREADS</div>
<div style="position:absolute;left:567.20px;top:111.37px;width:223.80px;height:6.40px;background:#fb9118;"></div>
<div style="position:absolute;left:568.80px;transform-origin:0 0;top:111.45px;font-size:5.70px;line-height:6.55px;color:#fff;white-space:nowrap;font-weight:bold;letter-spacing:0.2px;-webkit-text-stroke:0.35px #fff;">KIDS FOOD ITEMS</div>
<div style="position:absolute;left:567.20px;top:136.74px;width:223.80px;height:6.40px;background:#fb9118;"></div>
<div style="position:absolute;left:568.80px;transform-origin:0 0;top:136.81px;font-size:5.70px;line-height:6.55px;color:#fff;white-space:nowrap;font-weight:bold;letter-spacing:0.2px;-webkit-text-stroke:0.35px #fff;">BREAKFAST</div>
<div style="position:absolute;left:567.20px;top:157.43px;width:223.80px;height:6.40px;background:#fb9118;"></div>
<div style="position:absolute;left:568.80px;transform-origin:0 0;top:157.51px;font-size:5.70px;line-height:6.55px;color:#fff;white-space:nowrap;font-weight:bold;letter-spacing:0.2px;-webkit-text-stroke:0.35px #fff;">SIDES</div>
<div style="position:absolute;left:567.20px;top:206.14px;width:223.80px;height:6.40px;background:#fb9118;"></div>
<div style="position:absolute;left:568.80px;transform-origin:0 0;top:206.21px;font-size:5.70px;line-height:6.55px;color:#fff;white-space:nowrap;font-weight:bold;letter-spacing:0.2px;-webkit-text-stroke:0.35px #fff;">COOKIES</div>
<div style="position:absolute;left:567.20px;top:222.17px;width:223.80px;height:6.40px;background:#fb9118;"></div>
<div style="position:absolute;left:568.80px;transform-origin:0 0;top:222.24px;font-size:5.70px;line-height:6.55px;color:#fff;white-space:nowrap;font-weight:bold;letter-spacing:0.2px;-webkit-text-stroke:0.35px #fff;">BEVERAGES</div>
<div style="position:absolute;left:159.60px;top:300.50px;width:9.20px;height:275.30px;background:#e0eff8;"></div>
<div style="position:absolute;left:170.20px;top:300.50px;width:9.60px;height:275.30px;background:#ebebec;"></div>
<div style="position:absolute;left:191.60px;top:300.50px;width:9.40px;height:275.30px;background:#e0eff8;"></div>
<div style="position:absolute;left:246.60px;top:300.50px;width:9.60px;height:275.30px;background:#e0eff8;"></div>
<div style="position:absolute;left:257.40px;top:300.50px;width:9.50px;height:275.30px;background:#ebebec;"></div>
<div style="position:absolute;left:279.40px;top:300.50px;width:8.80px;height:275.30px;background:#e0eff8;"></div>
<div style="position:absolute;left:289.20px;top:300.50px;width:9.60px;height:275.30px;background:#ebebec;"></div>
<div style="position:absolute;left:300.90px;top:300.50px;width:9.60px;height:275.30px;background:#e0eff8;"></div>
<div style="position:absolute;left:74.80px;top:424.10px;width:235.80px;height:6.50px;background:#58c5e5;"></div>
<div style="position:absolute;left:76.80px;transform-origin:0 0;top:424.22px;font-size:5.70px;line-height:6.55px;color:#fff;white-space:nowrap;font-weight:bold;letter-spacing:0.2px;-webkit-text-stroke:0.35px #fff;">KIDS SMOOTHIES (12 OZ.)</div>
<div style="position:absolute;left:74.80px;top:447.20px;width:235.80px;height:6.40px;background:#58c5e5;"></div>
<div style="position:absolute;left:76.80px;transform-origin:0 0;top:447.27px;font-size:5.70px;line-height:6.55px;color:#fff;white-space:nowrap;font-weight:bold;letter-spacing:0.2px;-webkit-text-stroke:0.35px #fff;">KIDS SMOOTHIES (24 OZ.)</div>
<div style="position:absolute;left:74.80px;top:470.20px;width:235.80px;height:6.50px;background:#58c5e5;"></div>
<div style="position:absolute;left:76.80px;transform-origin:0 0;top:470.32px;font-size:5.70px;line-height:6.55px;color:#fff;white-space:nowrap;font-weight:bold;letter-spacing:0.2px;-webkit-text-stroke:0.35px #fff;">SUPPLEMENTS</div>
<div style="position:absolute;left:74.80px;top:526.00px;width:235.80px;height:6.40px;background:#58c5e5;"></div>
<div style="position:absolute;left:76.80px;transform-origin:0 0;top:526.07px;font-size:5.70px;line-height:6.55px;color:#fff;white-space:nowrap;font-weight:bold;letter-spacing:0.2px;-webkit-text-stroke:0.35px #fff;">FRESH ADD-INS</div>
<div style="position:absolute;left:153.20px;transform-origin:0 0;top:581.50px;font-size:2.90px;line-height:3.40px;color:#333;white-space:nowrap;font-weight:bold;">Vegetarian</div>
<div style="position:absolute;left:214.20px;transform-origin:0 0;top:581.50px;font-size:2.90px;line-height:3.40px;color:#333;white-space:nowrap;font-weight:bold;">Gluten Friendly</div>
<svg width="800" height="600" viewBox="0 0 800 600"><defs><clipPath id="cm"><rect x="56" y="300.5" width="280" height="300"/></clipPath></defs><g transform="rotate(0.05 670 150)"><text y="4.09" class="o"><tspan x="574.7" class="n">Hummus Veggie</tspan><tspan x="658.3">710</tspan><tspan x="670.4">300</tspan><tspan x="683.6">36</tspan><tspan x="696.5">7</tspan><tspan x="709.0">0</tspan><tspan x="721.6">25</tspan><tspan x="734.0">1400</tspan><tspan x="747.1">80</tspan><tspan x="760.0">10</tspan><tspan x="772.8">8</tspan><tspan x="785.7">16</tspan><tspan x="603.85" dy="-1.39" class="s">1,3,4</tspan></text><text y="8.76" class="o"><tspan x="574.7" class="n">Supergreen Caesar Chicken</tspan><tspan x="658.3">600</tspan><tspan x="670.4">280</tspan><tspan x="683.6">31</tspan><tspan x="696.5">11</tspan><tspan x="709.0">0</tspan><tspan x="721.6">120</tspan><tspan x="734.0">1470</tspan><tspan x="747.1">42</tspan><tspan x="760.0">3</tspan><tspan x="772.8">2</tspan><tspan x="785.7">37</tspan><tspan x="624.18" dy="-1.39" class="s">1,2,3,4,5</tspan></text><text y="13.43" class="o"><tspan x="574.7" class="n">Thai Chicken</tspan><tspan x="658.3">500</tspan><tspan x="670.4">130</tspan><tspan x="683.6">15</tspan><tspan x="696.5">3</tspan><tspan x="709.0">0</tspan><tspan x="721.6">80</tspan><tspan x="734.0">1300</tspan><tspan x="747.1">56</tspan><tspan x="760.0">4</tspan><tspan x="772.8">14</tspan><tspan x="785.7">30</tspan><tspan x="598.07" dy="-1.39" class="s">3,4,5</tspan></text><text y="24.79" class="o"><tspan x="574.7" class="n">Baja Chicken</tspan><tspan x="658.3">460</tspan><tspan x="670.4">160</tspan><tspan x="683.6">21</tspan><tspan x="696.5">7</tspan><tspan x="709.0">0</tspan><tspan x="721.6">90</tspan><tspan x="734.0">1980</tspan><tspan x="747.1">38</tspan><tspan x="760.0">9</tspan><tspan x="772.8">7</tspan><tspan x="785.7">32</tspan><tspan x="598.29" dy="-1.39" class="s">1</tspan></text><text y="29.45" class="o"><tspan x="574.7" class="n">Buffalo Chicken</tspan><tspan x="658.3">420</tspan><tspan x="670.4">220</tspan><tspan x="683.6">22</tspan><tspan x="696.5">7</tspan><tspan x="709.0">0</tspan><tspan x="721.6">100</tspan><tspan x="734.0">2330</tspan><tspan x="747.1">16</tspan><tspan x="760.0">8</tspan><tspan x="772.8">8</tspan><tspan x="785.7">28</tspan><tspan x="602.50" dy="-1.39" class="s">1,3,4</tspan></text><text y="34.12" class="o"><tspan x="574.7" class="n">Caribbean Jerk Chicken</tspan><tspan x="658.3">440</tspan><tspan x="670.4">110</tspan><tspan x="683.6">12</tspan><tspan x="696.5">7</tspan><tspan x="709.0">0</tspan><tspan x="721.6">85</tspan><tspan x="734.0">1300</tspan><tspan x="747.1">52</tspan><tspan x="760.0">6</tspan><tspan x="772.8">24</tspan><tspan x="785.7">33</tspan><tspan x="616.69" dy="-1.39" class="s">3,4</tspan></text><text y="38.79" class="o"><tspan x="574.7" class="n">Hummus Veggie</tspan><tspan x="658.3">590</tspan><tspan x="670.4">300</tspan><tspan x="683.6">41</tspan><tspan x="696.5">7</tspan><tspan x="709.0">0</tspan><tspan x="721.6">25</tspan><tspan x="734.0">1180</tspan><tspan x="747.1">43</tspan><tspan x="760.0">10</tspan><tspan x="772.8">8</tspan><tspan x="785.7">12</tspan><tspan x="603.85" dy="-1.39" class="s">1</tspan></text><text y="43.46" class="o"><tspan x="574.7" class="n">Supergreen Caesar Chicken</tspan><tspan x="658.3">380</tspan><tspan x="670.4">280</tspan><tspan x="683.6">42</tspan><tspan x="696.5">11</tspan><tspan x="709.0">0</tspan><tspan x="721.6">120</tspan><tspan x="734.0">1180</tspan><tspan x="747.1">10</tspan><tspan x="760.0">3</tspan><tspan x="772.8">3</tspan><tspan x="785.7">38</tspan><tspan x="624.18" dy="-1.39" class="s">1,2,3</tspan></text><text y="48.13" class="o"><tspan x="574.7" class="n">Thai Chicken</tspan><tspan x="658.3">380</tspan><tspan x="670.4">120</tspan><tspan x="683.6">13</tspan><tspan x="696.5">1.5</tspan><tspan x="709.0">0</tspan><tspan x="721.6">80</tspan><tspan x="734.0">1150</tspan><tspan x="747.1">40</tspan><tspan x="760.0">5</tspan><tspan x="772.8">22</tspan><tspan x="785.7">26</tspan><tspan x="598.07" dy="-1.39" class="s">3,4,5</tspan></text><text y="59.49" class="o"><tspan x="574.7" class="n">Chicken Caprese</tspan><tspan x="658.3">690</tspan><tspan x="670.4">210</tspan><tspan x="683.6">38</tspan><tspan x="696.5">9</tspan><tspan x="709.0">0</tspan><tspan x="721.6">120</tspan><tspan x="734.0">1200</tspan><tspan x="747.1">43</tspan><tspan x="760.0">3</tspan><tspan x="772.8">10</tspan><tspan x="785.7">40</tspan><tspan x="605.13" dy="-1.39" class="s">1,3</tspan></text><text y="64.15" class="o"><tspan x="574.7" class="n">Chicken Caprese with Bacon</tspan><tspan x="658.3">750</tspan><tspan x="670.4">270</tspan><tspan x="683.6">31</tspan><tspan x="696.5">11</tspan><tspan x="709.0">0</tspan><tspan x="721.6">130</tspan><tspan x="734.0">1410</tspan><tspan x="747.1">42</tspan><tspan x="760.0">3</tspan><tspan x="772.8">10</tspan><tspan x="785.7">46</tspan><tspan x="625.03" dy="-1.39" class="s">1,3</tspan></text><text y="68.82" class="o"><tspan x="574.7" class="n">Turkey Bacon Ranch</tspan><tspan x="658.3">560</tspan><tspan x="670.4">180</tspan><tspan x="683.6">20</tspan><tspan x="696.5">8</tspan><tspan x="709.0">0</tspan><tspan x="721.6">80</tspan><tspan x="734.0">1570</tspan><tspan x="747.1">58</tspan><tspan x="760.0">5</tspan><tspan x="772.8">14</tspan><tspan x="785.7">42</tspan><tspan x="611.41" dy="-1.39" class="s">1,3,4</tspan></text><text y="73.49" class="o"><tspan x="574.7" class="n">Ultimate Club</tspan><tspan x="658.3">630</tspan><tspan x="670.4">240</tspan><tspan x="683.6">27</tspan><tspan x="696.5">9</tspan><tspan x="709.0">0</tspan><tspan x="721.6">90</tspan><tspan x="734.0">1720</tspan><tspan x="747.1">59</tspan><tspan x="760.0">5</tspan><tspan x="772.8">13</tspan><tspan x="785.7">47</tspan><tspan x="598.71" dy="-1.39" class="s">1,3,4</tspan></text><text y="84.85" class="o"><tspan x="574.7" class="n">Santa Fe Chicken</tspan><tspan x="658.3">600</tspan><tspan x="670.4">250</tspan><tspan x="683.6">28</tspan><tspan x="696.5">15</tspan><tspan x="709.0">0</tspan><tspan x="721.6">100</tspan><tspan x="734.0">2270</tspan><tspan x="747.1">50</tspan><tspan x="760.0">3</tspan><tspan x="772.8">5</tspan><tspan x="785.7">36</tspan><tspan x="606.20" dy="-1.39" class="s">1,3</tspan></text><text y="89.52" class="o"><tspan x="574.7" class="n">Three Cheese Chicken</tspan><tspan x="658.3">550</tspan><tspan x="670.4">240</tspan><tspan x="683.6">27</tspan><tspan x="696.5">14</tspan><tspan x="709.0">0</tspan><tspan x="721.6">100</tspan><tspan x="734.0">1660</tspan><tspan x="747.1">41</tspan><tspan x="760.0">1</tspan><tspan x="772.8">0</tspan><tspan x="785.7">35</tspan><tspan x="614.98" dy="-1.39" class="s">1,3,4</tspan></text><text y="100.88" class="o"><tspan x="574.7" class="n">Chicken Bacon Ranch</tspan><tspan x="658.3">500</tspan><tspan x="670.4">240</tspan><tspan x="683.6">22</tspan><tspan x="696.5">9</tspan><tspan x="709.0">0</tspan><tspan x="721.6">80</tspan><tspan x="734.0">1210</tspan><tspan x="747.1">44</tspan><tspan x="760.0">2</tspan><tspan x="772.8">2</tspan><tspan x="785.7">31</tspan><tspan x="613.69" dy="-1.39" class="s">1,2,3</tspan></text><text y="105.55" class="o"><tspan x="574.7" class="n">Chicken Pesto</tspan><tspan x="658.3">430</tspan><tspan x="670.4">140</tspan><tspan x="683.6">16</tspan><tspan x="696.5">5</tspan><tspan x="709.0">0</tspan><tspan x="721.6">65</tspan><tspan x="734.0">1080</tspan><tspan x="747.1">43</tspan><tspan x="760.0">2</tspan><tspan x="772.8">2</tspan><tspan x="785.7">28</tspan><tspan x="600.42" dy="-1.39" class="s">1,3,5</tspan></text><text y="110.21" class="o"><tspan x="574.7" class="n">Chipotle Chicken Club</tspan><tspan x="658.3">490</tspan><tspan x="670.4">210</tspan><tspan x="683.6">24</tspan><tspan x="696.5">9</tspan><tspan x="709.0">0</tspan><tspan x="721.6">70</tspan><tspan x="734.0">1170</tspan><tspan x="747.1">42</tspan><tspan x="760.0">2</tspan><tspan x="772.8">3</tspan><tspan x="785.7">27</tspan><tspan x="613.69" dy="-1.39" class="s">1,2,3</tspan></text><text y="121.57" class="o"><tspan x="574.7" class="n">Cheese Quesadilla</tspan><tspan x="658.3">400</tspan><tspan x="670.4">170</tspan><tspan x="683.6">19</tspan><tspan x="696.5">10</tspan><tspan x="709.0">0</tspan><tspan x="721.6">45</tspan><tspan x="734.0">900</tspan><tspan x="747.1">37</tspan><tspan x="760.0">0</tspan><tspan x="772.8">0</tspan><tspan x="785.7">19</tspan><tspan x="608.13" dy="-1.39" class="s">1,3</tspan></text><text y="126.24" class="o"><tspan x="574.7" class="n">Cheese Quesadilla with Chicken</tspan><tspan x="658.3">580</tspan><tspan x="670.4">180</tspan><tspan x="683.6">31</tspan><tspan x="696.5">10</tspan><tspan x="709.0">0</tspan><tspan x="721.6">80</tspan><tspan x="734.0">1300</tspan><tspan x="747.1">37</tspan><tspan x="760.0">1</tspan><tspan x="772.8">1</tspan><tspan x="785.7">41</tspan><tspan x="631.03" dy="-1.39" class="s">1,3</tspan></text><text y="130.91" class="o"><tspan x="574.7" class="n">Ham &amp; Cheddar Wrap</tspan><tspan x="658.3">380</tspan><tspan x="670.4">140</tspan><tspan x="683.6">16</tspan><tspan x="696.5">8</tspan><tspan x="709.0">0</tspan><tspan x="721.6">55</tspan><tspan x="734.0">1000</tspan><tspan x="747.1">37</tspan><tspan x="760.0">0</tspan><tspan x="772.8">1</tspan><tspan x="785.7">18</tspan><tspan x="613.40" dy="-1.39" class="s">1,3</tspan></text><text y="135.58" class="o"><tspan x="574.7" class="n">Turkey &amp; Cheddar Wrap</tspan><tspan x="658.3">370</tspan><tspan x="670.4">140</tspan><tspan x="683.6">14</tspan><tspan x="696.5">8</tspan><tspan x="709.0">0</tspan><tspan x="721.6">50</tspan><tspan x="734.0">900</tspan><tspan x="747.1">36</tspan><tspan x="760.0">0</tspan><tspan x="772.8">0</tspan><tspan x="785.7">18</tspan><tspan x="616.90" dy="-1.39" class="s">1,3</tspan></text><text y="146.94" class="o"><tspan x="574.7" class="n">All American Wrap</tspan><tspan x="658.3">430</tspan><tspan x="670.4">180</tspan><tspan x="683.6">20</tspan><tspan x="696.5">10</tspan><tspan x="709.0">0</tspan><tspan x="721.6">145</tspan><tspan x="734.0">790</tspan><tspan x="747.1">37</tspan><tspan x="760.0">0</tspan><tspan x="772.8">1</tspan><tspan x="785.7">22</tspan><tspan x="607.20" dy="-1.39" class="s">1,2,3</tspan></text><text y="151.61" class="o"><tspan x="574.7" class="n">Peanut Butter Banana Crunch Flatbread</tspan><tspan x="658.3">590</tspan><tspan x="670.4">210</tspan><tspan x="683.6">24</tspan><tspan x="696.5">4</tspan><tspan x="709.0">0</tspan><tspan x="721.6">0</tspan><tspan x="734.0">710</tspan><tspan x="747.1">77</tspan><tspan x="760.0">7</tspan><tspan x="772.8">22</tspan><tspan x="785.7">19</tspan><tspan x="644.30" dy="-1.39" class="s">1,3,5</tspan></text><text y="156.27" class="o"><tspan x="574.7" class="n">Southwest Wrap</tspan><tspan x="658.3">590</tspan><tspan x="670.4">320</tspan><tspan x="683.6">36</tspan><tspan x="696.5">11</tspan><tspan x="709.0">0</tspan><tspan x="721.6">170</tspan><tspan x="734.0">1170</tspan><tspan x="747.1">38</tspan><tspan x="760.0">2</tspan><tspan x="772.8">2</tspan><tspan x="785.7">24</tspan><tspan x="603.78" dy="-1.39" class="s">1,2,3</tspan></text><text y="167.63" class="o"><tspan x="574.7" class="n">Apple</tspan><tspan x="658.3">80</tspan><tspan x="670.4">0</tspan><tspan x="683.6">0</tspan><tspan x="696.5">0</tspan><tspan x="709.0">0</tspan><tspan x="721.6">0</tspan><tspan x="734.0">0</tspan><tspan x="747.1">22</tspan><tspan x="760.0">4</tspan><tspan x="772.8">16</tspan><tspan x="785.7">0</tspan></text><text y="172.30" class="o"><tspan x="574.7" class="n">Banana</tspan><tspan x="658.3">110</tspan><tspan x="670.4">0</tspan><tspan x="683.6">0</tspan><tspan x="696.5">0</tspan><tspan x="709.0">0</tspan><tspan x="721.6">0</tspan><tspan x="734.0">0</tspan><tspan x="747.1">27</tspan><tspan x="760.0">3</tspan><tspan x="772.8">14</tspan><tspan x="785.7">1</tspan></text><text y="176.97" class="o"><tspan x="574.7" class="n">Kale &amp; Apple Slaw</tspan><tspan x="658.3">120</tspan><tspan x="670.4">70</tspan><tspan x="683.6">8</tspan><tspan x="696.5">1</tspan><tspan x="709.0">0</tspan><tspan x="721.6">5</tspan><tspan x="734.0">140</tspan><tspan x="747.1">11</tspan><tspan x="760.0">2</tspan><tspan x="772.8">7</tspan><tspan x="785.7">1</tspan><tspan x="607.06" dy="-1.39" class="s">2</tspan></text><text y="181.64" class="o"><tspan x="574.7" class="n">Lay's Baked Original</tspan><tspan x="658.3">110</tspan><tspan x="670.4">27</tspan><tspan x="683.6">3</tspan><tspan x="696.5">0</tspan><tspan x="709.0">0</tspan><tspan x="721.6">0</tspan><tspan x="734.0">140</tspan><tspan x="747.1">18</tspan><tspan x="760.0">1</tspan><tspan x="772.8">2</tspan><tspan x="785.7">2</tspan><tspan x="610.79" dy="-1.39" class="s">4</tspan></text><text y="186.31" class="o"><tspan x="574.7" class="n">Sunchips Harvest Cheddar</tspan><tspan x="658.3">140</tspan><tspan x="670.4">50</tspan><tspan x="683.6">6</tspan><tspan x="696.5">0.5</tspan><tspan x="709.0">0</tspan><tspan x="721.6">0</tspan><tspan x="734.0">140</tspan><tspan x="747.1">19</tspan><tspan x="760.0">2</tspan><tspan x="772.8">2</tspan><tspan x="785.7">2</tspan><tspan x="621.61" dy="-1.39" class="s">1,3</tspan></text><text y="190.97" class="o"><tspan x="574.7" class="n">Miss Vickie's Sea Salt &amp; Vinegar</tspan><tspan x="658.3">200</tspan><tspan x="670.4">90</tspan><tspan x="683.6">11</tspan><tspan x="696.5">1</tspan><tspan x="709.0">0</tspan><tspan x="721.6">0</tspan><tspan x="734.0">230</tspan><tspan x="747.1">24</tspan><tspan x="760.0">2</tspan><tspan x="772.8">0</tspan><tspan x="785.7">3</tspan><tspan x="630.98" dy="-1.39" class="s">1</tspan></text><text y="195.64" class="o"><tspan x="574.7" class="n">Miss Vickie's Simply Sea Salt</tspan><tspan x="658.3">210</tspan><tspan x="670.4">108</tspan><tspan x="683.6">12</tspan><tspan x="696.5">1.5</tspan><tspan x="709.0">0</tspan><tspan x="721.6">0</tspan><tspan x="734.0">105</tspan><tspan x="747.1">23</tspan><tspan x="760.0">2</tspan><tspan x="772.8">0</tspan><tspan x="785.7">3</tspan></text><text y="200.31" class="o"><tspan x="574.7" class="n">Miss Vickie's Jalape&ntilde;o</tspan><tspan x="658.3">200</tspan><tspan x="670.4">90</tspan><tspan x="683.6">11</tspan><tspan x="696.5">1</tspan><tspan x="709.0">0</tspan><tspan x="721.6">0</tspan><tspan x="734.0">180</tspan><tspan x="747.1">24</tspan><tspan x="760.0">2</tspan><tspan x="772.8">1</tspan><tspan x="785.7">3</tspan><tspan x="614.14" dy="-1.39" class="s">1</tspan></text><text y="204.98" class="o"><tspan x="574.7" class="n">Miss Vickie's Smokehouse BBQ</tspan><tspan x="658.3">200</tspan><tspan x="670.4">99</tspan><tspan x="683.6">11</tspan><tspan x="696.5">1.5</tspan><tspan x="709.0">0</tspan><tspan x="721.6">0</tspan><tspan x="734.0">200</tspan><tspan x="747.1">23</tspan><tspan x="760.0">2</tspan><tspan x="772.8">2</tspan><tspan x="785.7">3</tspan><tspan x="630.19" dy="-1.39" class="s">1</tspan></text><text y="216.34" class="o"><tspan x="574.7" class="n">Chocolate Chunk</tspan><tspan x="658.3">350</tspan><tspan x="670.4">170</tspan><tspan x="683.6">20</tspan><tspan x="696.5">12</tspan><tspan x="709.0">0</tspan><tspan x="721.6">60</tspan><tspan x="734.0">230</tspan><tspan x="747.1">41</tspan><tspan x="760.0">2</tspan><tspan x="772.8">27</tspan><tspan x="785.7">4</tspan><tspan x="605.14" dy="-1.39" class="s">1,2,3,4</tspan></text><text y="221.01" class="o"><tspan x="574.7" class="n">Snickerdoodle</tspan><tspan x="658.3">330</tspan><tspan x="670.4">130</tspan><tspan x="683.6">14</tspan><tspan x="696.5">8</tspan><tspan x="709.0">0</tspan><tspan x="721.6">60</tspan><tspan x="734.0">330</tspan><tspan x="747.1">48</tspan><tspan x="760.0">0</tspan><tspan x="772.8">26</tspan><tspan x="785.7">4</tspan><tspan x="600.00" dy="-1.39" class="s">1,2,3</tspan></text><text y="232.37" class="o"><tspan x="574.7" class="n">Aquafina Bottled Water (20 fl oz)</tspan><tspan x="658.3">0</tspan><tspan x="670.4">0</tspan><tspan x="683.6">0</tspan><tspan x="696.5">0</tspan><tspan x="709.0">0</tspan><tspan x="721.6">0</tspan><tspan x="734.0">20</tspan><tspan x="747.1">0</tspan><tspan x="760.0">0</tspan><tspan x="772.8">0</tspan><tspan x="785.7">0</tspan></text><text y="237.03" class="o"><tspan x="574.7" class="n">Brewed Sweet Tea (24 fl oz)</tspan><tspan x="658.3">250</tspan><tspan x="670.4">0</tspan><tspan x="683.6">0</tspan><tspan x="696.5">0</tspan><tspan x="709.0">0</tspan><tspan x="721.6">0</tspan><tspan x="734.0">25</tspan><tspan x="747.1">65</tspan><tspan x="760.0">0</tspan><tspan x="772.8">65</tspan><tspan x="785.7">0</tspan></text><text y="241.70" class="o"><tspan x="574.7" class="n">Brewed Unsweet Tea (16 fl oz)</tspan><tspan x="658.3">5</tspan><tspan x="670.4">0</tspan><tspan x="683.6">0</tspan><tspan x="696.5">0</tspan><tspan x="709.0">0</tspan><tspan x="721.6">0</tspan><tspan x="734.0">15</tspan><tspan x="747.1">1</tspan><tspan x="760.0">0</tspan><tspan x="772.8">0</tspan><tspan x="785.7">0</tspan></text><text y="246.37" class="o"><tspan x="574.7" class="n">Brewed Unsweet Tea (24 fl oz)</tspan><tspan x="658.3">5</tspan><tspan x="670.4">0</tspan><tspan x="683.6">0</tspan><tspan x="696.5">0</tspan><tspan x="709.0">0</tspan><tspan x="721.6">0</tspan><tspan x="734.0">20</tspan><tspan x="747.1">2</tspan><tspan x="760.0">0</tspan><tspan x="772.8">0</tspan><tspan x="785.7">0</tspan></text><text y="251.04" class="o"><tspan x="574.7" class="n">Coca-Cola (8.5 fl oz)</tspan><tspan x="658.3">110</tspan><tspan x="670.4">0</tspan><tspan x="683.6">0</tspan><tspan x="696.5">0</tspan><tspan x="709.0">0</tspan><tspan x="721.6">0</tspan><tspan x="734.0">20</tspan><tspan x="747.1">29</tspan><tspan x="760.0">0</tspan><tspan x="772.8">29</tspan><tspan x="785.7">0</tspan></text><text y="255.71" class="o"><tspan x="574.7" class="n">Coca-Cola (12 fl oz)</tspan><tspan x="658.3">150</tspan><tspan x="670.4">0</tspan><tspan x="683.6">0</tspan><tspan x="696.5">0</tspan><tspan x="709.0">0</tspan><tspan x="721.6">0</tspan><tspan x="734.0">35</tspan><tspan x="747.1">40</tspan><tspan x="760.0">0</tspan><tspan x="772.8">40</tspan><tspan x="785.7">0</tspan></text><text y="260.37" class="o"><tspan x="574.7" class="n">Coca-Cola (20 fl oz)</tspan><tspan x="658.3">240</tspan><tspan x="670.4">0</tspan><tspan x="683.6">0</tspan><tspan x="696.5">0</tspan><tspan x="709.0">0</tspan><tspan x="721.6">0</tspan><tspan x="734.0">60</tspan><tspan x="747.1">67</tspan><tspan x="760.0">0</tspan><tspan x="772.8">67</tspan><tspan x="785.7">0</tspan></text><text y="265.04" class="o"><tspan x="574.7" class="n">Coca-Cola (24 fl oz fountain)</tspan><tspan x="658.3">290</tspan><tspan x="670.4">0</tspan><tspan x="683.6">0</tspan><tspan x="696.5">0</tspan><tspan x="709.0">0</tspan><tspan x="721.6">0</tspan><tspan x="734.0">70</tspan><tspan x="747.1">80</tspan><tspan x="760.0">0</tspan><tspan x="772.8">80</tspan><tspan x="785.7">0</tspan></text><text y="269.71" class="o"><tspan x="574.7" class="n">Coke Zero (24 fl oz fountain)</tspan><tspan x="658.3">0</tspan><tspan x="670.4">0</tspan><tspan x="683.6">0</tspan><tspan x="696.5">0</tspan><tspan x="709.0">0</tspan><tspan x="721.6">0</tspan><tspan x="734.0">55</tspan><tspan x="747.1">0</tspan><tspan x="760.0">0</tspan><tspan x="772.8">0</tspan><tspan x="785.7">0</tspan></text><text y="274.38" class="o"><tspan x="574.7" class="n">Dasani Bottled Water (20 fl oz)</tspan><tspan x="658.3">0</tspan><tspan x="670.4">0</tspan><tspan x="683.6">0</tspan><tspan x="696.5">0</tspan><tspan x="709.0">0</tspan><tspan x="721.6">0</tspan><tspan x="734.0">20</tspan><tspan x="747.1">0</tspan><tspan x="760.0">0</tspan><tspan x="772.8">0</tspan><tspan x="785.7">0</tspan></text><text y="279.05" class="o"><tspan x="574.7" class="n">Diet Coke (8.5 fl oz)</tspan><tspan x="658.3">0</tspan><tspan x="670.4">0</tspan><tspan x="683.6">0</tspan><tspan x="696.5">0</tspan><tspan x="709.0">0</tspan><tspan x="721.6">0</tspan><tspan x="734.0">30</tspan><tspan x="747.1">0</tspan><tspan x="760.0">0</tspan><tspan x="772.8">0</tspan><tspan x="785.7">0</tspan></text><text y="283.71" class="o"><tspan x="574.7" class="n">Diet Coke (12 fl oz)</tspan><tspan x="658.3">0</tspan><tspan x="670.4">0</tspan><tspan x="683.6">0</tspan><tspan x="696.5">0</tspan><tspan x="709.0">0</tspan><tspan x="721.6">0</tspan><tspan x="734.0">40</tspan><tspan x="747.1">0</tspan><tspan x="760.0">0</tspan><tspan x="772.8">0</tspan><tspan x="785.7">0</tspan></text><text y="288.38" class="o"><tspan x="574.7" class="n">Diet Coke (20 fl oz)</tspan><tspan x="658.3">0</tspan><tspan x="670.4">0</tspan><tspan x="683.6">0</tspan><tspan x="696.5">0</tspan><tspan x="709.0">0</tspan><tspan x="721.6">0</tspan><tspan x="734.0">70</tspan><tspan x="747.1">0</tspan><tspan x="760.0">0</tspan><tspan x="772.8">0</tspan><tspan x="785.7">0</tspan></text><text y="293.05" class="o"><tspan x="574.7" class="n">Diet Coke (24 fl oz fountain)</tspan><tspan x="658.3">0</tspan><tspan x="670.4">0</tspan><tspan x="683.6">0</tspan><tspan x="696.5">0</tspan><tspan x="709.0">0</tspan><tspan x="721.6">0</tspan><tspan x="734.0">30</tspan><tspan x="747.1">0</tspan><tspan x="760.0">0</tspan><tspan x="772.8">0</tspan><tspan x="785.7">0</tspan></text><text y="297.72" class="o"><tspan x="574.7" class="n">Minute Maid Lemonade (24 fl oz fountain)</tspan><tspan x="658.3">270</tspan><tspan x="670.4">0</tspan><tspan x="683.6">0</tspan><tspan x="696.5">0</tspan><tspan x="709.0">0</tspan><tspan x="721.6">0</tspan><tspan x="734.0">200</tspan><tspan x="747.1">72</tspan><tspan x="760.0">0</tspan><tspan x="772.8">70</tspan><tspan x="785.7">0</tspan></text></g><g clip-path="url(#cm)"><g transform="rotate(0.05 190 440)"><text y="302.81" class="m"><tspan x="82.0" class="n">Acai Berry Boost</tspan><tspan x="164.3">470</tspan><tspan x="175.2">380</tspan><tspan x="186.0">20</tspan><tspan x="196.6">7</tspan><tspan x="207.8">0</tspan><tspan x="218.8">0</tspan><tspan x="229.5">0</tspan><tspan x="240.2">10</tspan><tspan x="251.2">75</tspan><tspan x="262.0">28</tspan><tspan x="272.8">3</tspan><tspan x="283.8">102</tspan><tspan x="294.3">88</tspan><tspan x="305.6">3</tspan></text><text y="308.24" class="m"><tspan x="82.0" class="n">Avocolada</tspan><tspan x="164.3">600</tspan><tspan x="175.2">360</tspan><tspan x="186.0">150</tspan><tspan x="196.6">17</tspan><tspan x="207.8">0</tspan><tspan x="218.8">0</tspan><tspan x="229.5">0</tspan><tspan x="240.2">50</tspan><tspan x="251.2">112</tspan><tspan x="262.0">83</tspan><tspan x="272.8">8</tspan><tspan x="283.8">100</tspan><tspan x="294.3">66</tspan><tspan x="305.6">6</tspan><tspan x="102.44" dy="-1.51" class="s">*</tspan></text><text y="313.68" class="m"><tspan x="82.0" class="n">Bahama Mama</tspan><tspan x="164.3">510</tspan><tspan x="175.2">230</tspan><tspan x="186.0">35</tspan><tspan x="196.6">4</tspan><tspan x="207.8">4</tspan><tspan x="218.8">0</tspan><tspan x="229.5">0</tspan><tspan x="240.2">50</tspan><tspan x="251.2">117</tspan><tspan x="262.0">64</tspan><tspan x="272.8">3</tspan><tspan x="283.8">110</tspan><tspan x="294.3">56</tspan><tspan x="305.6">5</tspan><tspan x="111.38" dy="-1.51" class="s">1,2,3</tspan></text><text y="319.11" class="m"><tspan x="82.0" class="n">Beach Bum</tspan><tspan x="164.3">520</tspan><tspan x="175.2">530</tspan><tspan x="186.0">35</tspan><tspan x="196.6">4</tspan><tspan x="207.8">0</tspan><tspan x="218.8">0</tspan><tspan x="229.5">0</tspan><tspan x="240.2">75</tspan><tspan x="251.2">121</tspan><tspan x="262.0">78</tspan><tspan x="272.8">7</tspan><tspan x="283.8">108</tspan><tspan x="294.3">92</tspan><tspan x="305.6">4</tspan><tspan x="104.61" dy="-1.51" class="s">1,2,3</tspan></text><text y="324.55" class="m"><tspan x="82.0" class="n">Blimey Limey</tspan><tspan x="164.3">460</tspan><tspan x="175.2">310</tspan><tspan x="186.0">0</tspan><tspan x="196.6">0</tspan><tspan x="207.8">0</tspan><tspan x="218.8">0</tspan><tspan x="229.5">0</tspan><tspan x="240.2">75</tspan><tspan x="251.2">118</tspan><tspan x="262.0">32</tspan><tspan x="272.8">2</tspan><tspan x="283.8">113</tspan><tspan x="294.3">90</tspan><tspan x="305.6">2</tspan></text><text y="329.99" class="m"><tspan x="82.0" class="n">Blueberry Bliss</tspan><tspan x="164.3">340</tspan><tspan x="175.2">130</tspan><tspan x="186.0">5</tspan><tspan x="196.6">0.5</tspan><tspan x="207.8">0</tspan><tspan x="218.8">0</tspan><tspan x="229.5">0</tspan><tspan x="240.2">5</tspan><tspan x="251.2">86</tspan><tspan x="262.0">33</tspan><tspan x="272.8">4</tspan><tspan x="283.8">79</tspan><tspan x="294.3">21</tspan><tspan x="305.6">7</tspan></text><text y="335.42" class="m"><tspan x="82.0" class="n">Chia Banana Boost with Peanut Butter</tspan><tspan x="164.3">780</tspan><tspan x="175.2">690</tspan><tspan x="186.0">240</tspan><tspan x="196.6">27</tspan><tspan x="207.8">6</tspan><tspan x="218.8">0</tspan><tspan x="229.5">0</tspan><tspan x="240.2">160</tspan><tspan x="251.2">126</tspan><tspan x="262.0">101</tspan><tspan x="272.8">10</tspan><tspan x="283.8">95</tspan><tspan x="294.3">80</tspan><tspan x="305.6">18</tspan><tspan x="154.58" dy="-1.51" class="s">1,2,3,5</tspan></text><text y="340.86" class="m"><tspan x="82.0" class="n">Chia Banana Boost with Strawberry</tspan><tspan x="164.3">610</tspan><tspan x="175.2">500</tspan><tspan x="186.0">110</tspan><tspan x="196.6">15</tspan><tspan x="207.8">2.5</tspan><tspan x="218.8">0</tspan><tspan x="229.5">0</tspan><tspan x="240.2">15</tspan><tspan x="251.2">117</tspan><tspan x="262.0">100</tspan><tspan x="272.8">14</tspan><tspan x="283.8">84</tspan><tspan x="294.3">67</tspan><tspan x="305.6">9</tspan><tspan x="149.20" dy="-1.51" class="s">2,3</tspan></text><text y="346.29" class="m"><tspan x="82.0" class="n">Detox Island Green</tspan><tspan x="164.3">180</tspan><tspan x="175.2">200</tspan><tspan x="186.0">0</tspan><tspan x="196.6">0</tspan><tspan x="207.8">0</tspan><tspan x="218.8">0</tspan><tspan x="229.5">0</tspan><tspan x="240.2">35</tspan><tspan x="251.2">43</tspan><tspan x="262.0">50</tspan><tspan x="272.8">4</tspan><tspan x="283.8">29</tspan><tspan x="294.3">35</tspan><tspan x="305.6">4</tspan></text><text y="351.73" class="m"><tspan x="82.0" class="n">Island Green</tspan><tspan x="164.3">410</tspan><tspan x="175.2">180</tspan><tspan x="186.0">0</tspan><tspan x="196.6">0</tspan><tspan x="207.8">0</tspan><tspan x="218.8">0</tspan><tspan x="229.5">0</tspan><tspan x="240.2">35</tspan><tspan x="251.2">102</tspan><tspan x="262.0">48</tspan><tspan x="272.8">4</tspan><tspan x="283.8">88</tspan><tspan x="294.3">33</tspan><tspan x="305.6">3</tspan></text><text y="357.17" class="m"><tspan x="82.0" class="n">Jetty Punch</tspan><tspan x="164.3">370</tspan><tspan x="175.2">150</tspan><tspan x="186.0">0</tspan><tspan x="196.6">0</tspan><tspan x="207.8">0</tspan><tspan x="218.8">0</tspan><tspan x="229.5">0</tspan><tspan x="240.2">5</tspan><tspan x="251.2">94</tspan><tspan x="262.0">60</tspan><tspan x="272.8">4</tspan><tspan x="283.8">77</tspan><tspan x="294.3">22</tspan><tspan x="305.6">2</tspan></text><text y="362.60" class="m"><tspan x="82.0" class="n">Kiwi Quencher</tspan><tspan x="164.3">450</tspan><tspan x="175.2">230</tspan><tspan x="186.0">5</tspan><tspan x="196.6">0</tspan><tspan x="207.8">0</tspan><tspan x="218.8">0</tspan><tspan x="229.5">0</tspan><tspan x="240.2">45</tspan><tspan x="251.2">111</tspan><tspan x="262.0">58</tspan><tspan x="272.8">11</tspan><tspan x="283.8">94</tspan><tspan x="294.3">40</tspan><tspan x="305.6">2</tspan><tspan x="110.21" dy="-1.51" class="s">*</tspan></text><text y="368.04" class="m"><tspan x="82.0" class="n">Lean Machine</tspan><tspan x="164.3">490</tspan><tspan x="175.2">170</tspan><tspan x="186.0">0</tspan><tspan x="196.6">0</tspan><tspan x="207.8">0</tspan><tspan x="218.8">0</tspan><tspan x="229.5">0</tspan><tspan x="240.2">10</tspan><tspan x="251.2">104</tspan><tspan x="262.0">43</tspan><tspan x="272.8">3</tspan><tspan x="283.8">107</tspan><tspan x="294.3">26</tspan><tspan x="305.6">2</tspan><tspan x="109.29" dy="-1.51" class="s">1,2,3</tspan></text><text y="373.47" class="m"><tspan x="82.0" class="n">Mango Magic</tspan><tspan x="164.3">400</tspan><tspan x="175.2">180</tspan><tspan x="186.0">0</tspan><tspan x="196.6">0</tspan><tspan x="207.8">0</tspan><tspan x="218.8">0</tspan><tspan x="229.5">0</tspan><tspan x="240.2">55</tspan><tspan x="251.2">88</tspan><tspan x="262.0">44</tspan><tspan x="272.8">11</tspan><tspan x="283.8">81</tspan><tspan x="294.3">37</tspan><tspan x="305.6">3</tspan><tspan x="108.11" dy="-1.51" class="s">*</tspan></text><text y="378.91" class="m"><tspan x="82.0" class="n">Mocha Madness</tspan><tspan x="164.3">540</tspan><tspan x="175.2">320</tspan><tspan x="186.0">35</tspan><tspan x="196.6">4</tspan><tspan x="207.8">3</tspan><tspan x="218.8">0</tspan><tspan x="229.5">0</tspan><tspan x="240.2">135</tspan><tspan x="251.2">134</tspan><tspan x="262.0">71</tspan><tspan x="272.8">11</tspan><tspan x="283.8">102</tspan><tspan x="294.3">49</tspan><tspan x="305.6">5</tspan><tspan x="113.72" dy="-1.51" class="s">1,2,3</tspan></text><text y="384.35" class="m"><tspan x="82.0" class="n">Paradise Point</tspan><tspan x="164.3">430</tspan><tspan x="175.2">210</tspan><tspan x="186.0">0</tspan><tspan x="196.6">0</tspan><tspan x="207.8">0</tspan><tspan x="218.8">0</tspan><tspan x="229.5">0</tspan><tspan x="240.2">0</tspan><tspan x="251.2">110</tspan><tspan x="262.0">58</tspan><tspan x="272.8">6</tspan><tspan x="283.8">92</tspan><tspan x="294.3">36</tspan><tspan x="305.6">2</tspan></text><text y="389.78" class="m"><tspan x="82.0" class="n">Peanut Butter Cup</tspan><tspan x="164.3">710</tspan><tspan x="175.2">680</tspan><tspan x="186.0">170</tspan><tspan x="196.6">18</tspan><tspan x="207.8">6</tspan><tspan x="218.8">0</tspan><tspan x="229.5">0</tspan><tspan x="240.2">240</tspan><tspan x="251.2">125</tspan><tspan x="262.0">75</tspan><tspan x="272.8">7</tspan><tspan x="283.8">108</tspan><tspan x="294.3">53</tspan><tspan x="305.6">11</tspan><tspan x="117.46" dy="-1.51" class="s">1,2,3,5</tspan></text><text y="395.22" class="m"><tspan x="82.0" class="n">Peanut Paradise with Pea</tspan><tspan x="164.3">740</tspan><tspan x="175.2">530</tspan><tspan x="186.0">160</tspan><tspan x="196.6">17</tspan><tspan x="207.8">4</tspan><tspan x="218.8">0</tspan><tspan x="229.5">0</tspan><tspan x="240.2">710</tspan><tspan x="251.2">107</tspan><tspan x="262.0">53</tspan><tspan x="272.8">10</tspan><tspan x="283.8">77</tspan><tspan x="294.3">23</tspan><tspan x="305.6">29</tspan><tspan x="131.23" dy="-1.51" class="s">1,2,5</tspan></text><text y="400.65" class="m"><tspan x="82.0" class="n">Peanut Paradise with Soy</tspan><tspan x="164.3">700</tspan><tspan x="175.2">490</tspan><tspan x="186.0">140</tspan><tspan x="196.6">16</tspan><tspan x="207.8">3</tspan><tspan x="218.8">0</tspan><tspan x="229.5">0</tspan><tspan x="240.2">250</tspan><tspan x="251.2">109</tspan><tspan x="262.0">55</tspan><tspan x="272.8">14</tspan><tspan x="283.8">77</tspan><tspan x="294.3">23</tspan><tspan x="305.6">23</tspan><tspan x="131.00" dy="-1.51" class="s">1,2,3,5</tspan></text><text y="406.09" class="m"><tspan x="82.0" class="n">Peanut Paradise with Whey</tspan><tspan x="164.3">690</tspan><tspan x="175.2">470</tspan><tspan x="186.0">160</tspan><tspan x="196.6">17</tspan><tspan x="207.8">3</tspan><tspan x="218.8">0</tspan><tspan x="229.5">20</tspan><tspan x="240.2">210</tspan><tspan x="251.2">105</tspan><tspan x="262.0">51</tspan><tspan x="272.8">14</tspan><tspan x="283.8">79</tspan><tspan x="294.3">25</tspan><tspan x="305.6">22</tspan><tspan x="134.49" dy="-1.51" class="s">1,2,3,5</tspan></text><text y="411.53" class="m"><tspan x="82.0" class="n">Pomegranate Plunge</tspan><tspan x="164.3">500</tspan><tspan x="175.2">310</tspan><tspan x="186.0">0</tspan><tspan x="196.6">0</tspan><tspan x="207.8">0</tspan><tspan x="218.8">0</tspan><tspan x="229.5">0</tspan><tspan x="240.2">15</tspan><tspan x="251.2">131</tspan><tspan x="262.0">78</tspan><tspan x="272.8">3</tspan><tspan x="283.8">111</tspan><tspan x="294.3">89</tspan><tspan x="305.6">1</tspan></text><text y="416.96" class="m"><tspan x="82.0" class="n">Sunrise Sunset</tspan><tspan x="164.3">400</tspan><tspan x="175.2">180</tspan><tspan x="186.0">0</tspan><tspan x="196.6">0</tspan><tspan x="207.8">0</tspan><tspan x="218.8">0</tspan><tspan x="229.5">0</tspan><tspan x="240.2">10</tspan><tspan x="251.2">97</tspan><tspan x="262.0">43</tspan><tspan x="272.8">4</tspan><tspan x="283.8">88</tspan><tspan x="294.3">53</tspan><tspan x="305.6">2</tspan></text><text y="422.40" class="m"><tspan x="82.0" class="n" style="fill:#b06a9a">Triple Berry Oat</tspan><tspan x="164.3">410</tspan><tspan x="175.2">410</tspan><tspan x="186.0">40</tspan><tspan x="196.6">4.5</tspan><tspan x="207.8">0</tspan><tspan x="218.8">0</tspan><tspan x="229.5">20</tspan><tspan x="240.2">25</tspan><tspan x="251.2">93</tspan><tspan x="262.0">83</tspan><tspan x="272.8">7</tspan><tspan x="283.8">86</tspan><tspan x="294.3">98</tspan><tspan x="305.6">10</tspan><tspan x="112.38" dy="-1.51" class="s">1,2,3</tspan></text><text y="434.91" class="m"><tspan x="82.0" class="n">Kids Chocolate Chimp</tspan><tspan x="164.3">380</tspan><tspan x="175.2">190</tspan><tspan x="186.0">25</tspan><tspan x="196.6">3</tspan><tspan x="207.8">1.5</tspan><tspan x="218.8">0</tspan><tspan x="229.5">0</tspan><tspan x="240.2">35</tspan><tspan x="251.2">53</tspan><tspan x="262.0">32</tspan><tspan x="272.8">3</tspan><tspan x="283.8">33</tspan><tspan x="294.3">38</tspan><tspan x="305.6">3</tspan><tspan x="124.45" dy="-1.51" class="s">1,2,3</tspan></text><text y="440.34" class="m"><tspan x="82.0" class="n">Kids Jetty Junior</tspan><tspan x="164.3">190</tspan><tspan x="175.2">80</tspan><tspan x="186.0">0</tspan><tspan x="196.6">0</tspan><tspan x="207.8">0</tspan><tspan x="218.8">0</tspan><tspan x="229.5">0</tspan><tspan x="240.2">0</tspan><tspan x="251.2">47</tspan><tspan x="262.0">23</tspan><tspan x="272.8">2</tspan><tspan x="283.8">39</tspan><tspan x="294.3">12</tspan><tspan x="305.6">1</tspan></text><text y="445.77" class="m"><tspan x="82.0" class="n" style="fill:#b06a9a">Kids Lil' Lime Berry</tspan><tspan x="164.3">260</tspan><tspan x="175.2">150</tspan><tspan x="186.0">0</tspan><tspan x="196.6">0</tspan><tspan x="207.8">0</tspan><tspan x="218.8">0</tspan><tspan x="229.5">0</tspan><tspan x="240.2">5</tspan><tspan x="251.2">66</tspan><tspan x="262.0">38</tspan><tspan x="272.8">1</tspan><tspan x="283.8">63</tspan><tspan x="294.3">33</tspan><tspan x="305.6">0</tspan></text><text y="457.81" class="m"><tspan x="82.0" class="n">Kids Chocolate Chimp</tspan><tspan x="164.3">620</tspan><tspan x="175.2">310</tspan><tspan x="186.0">35</tspan><tspan x="196.6">4</tspan><tspan x="207.8">3</tspan><tspan x="218.8">0</tspan><tspan x="229.5">0</tspan><tspan x="240.2">75</tspan><tspan x="251.2">134</tspan><tspan x="262.0">71</tspan><tspan x="272.8">5</tspan><tspan x="283.8">106</tspan><tspan x="294.3">51</tspan><tspan x="305.6">5</tspan><tspan x="124.45" dy="-1.51" class="s">1,2,3</tspan></text><text y="463.24" class="m"><tspan x="82.0" class="n">Kids Jetty Junior</tspan><tspan x="164.3">370</tspan><tspan x="175.2">150</tspan><tspan x="186.0">0</tspan><tspan x="196.6">0</tspan><tspan x="207.8">0</tspan><tspan x="218.8">0</tspan><tspan x="229.5">0</tspan><tspan x="240.2">5</tspan><tspan x="251.2">94</tspan><tspan x="262.0">40</tspan><tspan x="272.8">5</tspan><tspan x="283.8">77</tspan><tspan x="294.3">22</tspan><tspan x="305.6">2</tspan></text><text y="468.67" class="m"><tspan x="82.0" class="n" style="fill:#b06a9a">Kids Lil' Lime Berry</tspan><tspan x="164.3">470</tspan><tspan x="175.2">200</tspan><tspan x="186.0">0</tspan><tspan x="196.6">0</tspan><tspan x="207.8">0</tspan><tspan x="218.8">0</tspan><tspan x="229.5">0</tspan><tspan x="240.2">15</tspan><tspan x="251.2">117</tspan><tspan x="262.0">55</tspan><tspan x="272.8">2</tspan><tspan x="283.8">112</tspan><tspan x="294.3">46</tspan><tspan x="305.6">0</tspan></text><text y="480.81" class="m"><tspan x="82.0" class="n">Energizer</tspan><tspan x="164.3">0</tspan><tspan x="175.2">N/A</tspan><tspan x="186.0">0</tspan><tspan x="196.6">0</tspan><tspan x="207.8">0</tspan><tspan x="218.8">0</tspan><tspan x="229.5">0</tspan><tspan x="240.2">0</tspan><tspan x="251.2">0</tspan><tspan x="262.0">N/A</tspan><tspan x="272.8">0</tspan><tspan x="283.8">0</tspan><tspan x="294.3">N/A</tspan><tspan x="305.6">0</tspan><tspan x="100.88" dy="-1.51" class="s">2,3</tspan></text><text y="486.24" class="m"><tspan x="82.0" class="n">Fat-Burner</tspan><tspan x="164.3">0</tspan><tspan x="175.2">N/A</tspan><tspan x="186.0">0</tspan><tspan x="196.6">0</tspan><tspan x="207.8">0</tspan><tspan x="218.8">0</tspan><tspan x="229.5">0</tspan><tspan x="240.2">0</tspan><tspan x="251.2">0</tspan><tspan x="262.0">N/A</tspan><tspan x="272.8">0</tspan><tspan x="283.8">0</tspan><tspan x="294.3">N/A</tspan><tspan x="305.6">0</tspan><tspan x="102.97" dy="-1.51" class="s">2</tspan></text><text y="491.67" class="m"><tspan x="82.0" class="n">Multivitamin</tspan><tspan x="164.3">10</tspan><tspan x="175.2">N/A</tspan><tspan x="186.0">0</tspan><tspan x="196.6">0</tspan><tspan x="207.8">0</tspan><tspan x="218.8">0</tspan><tspan x="229.5">0</tspan><tspan x="240.2">0</tspan><tspan x="251.2">4</tspan><tspan x="262.0">N/A</tspan><tspan x="272.8">0</tspan><tspan x="283.8">0</tspan><tspan x="294.3">N/A</tspan><tspan x="305.6">0</tspan></text><text y="497.10" class="m"><tspan x="82.0" class="n">Pea Protein Powder</tspan><tspan x="164.3">100</tspan><tspan x="175.2">N/A</tspan><tspan x="186.0">20</tspan><tspan x="196.6">2</tspan><tspan x="207.8">1</tspan><tspan x="218.8">0</tspan><tspan x="229.5">0</tspan><tspan x="240.2">330</tspan><tspan x="251.2">4</tspan><tspan x="262.0">N/A</tspan><tspan x="272.8">1</tspan><tspan x="283.8">0</tspan><tspan x="294.3">N/A</tspan><tspan x="305.6">28</tspan></text><text y="502.53" class="m"><tspan x="82.0" class="n">Probiotic</tspan><tspan x="164.3">20</tspan><tspan x="175.2">N/A</tspan><tspan x="186.0">0</tspan><tspan x="196.6">0</tspan><tspan x="207.8">0</tspan><tspan x="218.8">0</tspan><tspan x="229.5">0</tspan><tspan x="240.2">0</tspan><tspan x="251.2">6</tspan><tspan x="262.0">N/A</tspan><tspan x="272.8">0</tspan><tspan x="283.8">0</tspan><tspan x="294.3">N/A</tspan><tspan x="305.6">0</tspan></text><text y="507.96" class="m"><tspan x="82.0" class="n">Soy Protein Powder</tspan><tspan x="164.3">110</tspan><tspan x="175.2">N/A</tspan><tspan x="186.0">5</tspan><tspan x="196.6">0.5</tspan><tspan x="207.8">0</tspan><tspan x="218.8">0</tspan><tspan x="229.5">0</tspan><tspan x="240.2">110</tspan><tspan x="251.2">8</tspan><tspan x="262.0">N/A</tspan><tspan x="272.8">0</tspan><tspan x="283.8">0</tspan><tspan x="294.3">N/A</tspan><tspan x="305.6">22</tspan><tspan x="120.02" dy="-1.51" class="s">3</tspan></text><text y="513.39" class="m"><tspan x="82.0" class="n">Vitamin B12</tspan><tspan x="164.3">15</tspan><tspan x="175.2">N/A</tspan><tspan x="186.0">0</tspan><tspan x="196.6">0</tspan><tspan x="207.8">0</tspan><tspan x="218.8">0</tspan><tspan x="229.5">0</tspan><tspan x="240.2">0</tspan><tspan x="251.2">4</tspan><tspan x="262.0">N/A</tspan><tspan x="272.8">0</tspan><tspan x="283.8">0</tspan><tspan x="294.3">N/A</tspan><tspan x="305.6">0</tspan></text><text y="518.82" class="m"><tspan x="82.0" class="n">Vitamin C Immune Complex</tspan><tspan x="164.3">25</tspan><tspan x="175.2">N/A</tspan><tspan x="186.0">0</tspan><tspan x="196.6">0</tspan><tspan x="207.8">0</tspan><tspan x="218.8">0</tspan><tspan x="229.5">0</tspan><tspan x="240.2">0</tspan><tspan x="251.2">5</tspan><tspan x="262.0">N/A</tspan><tspan x="272.8">0</tspan><tspan x="283.8">0</tspan><tspan x="294.3">N/A</tspan><tspan x="305.6">0</tspan></text><text y="524.25" class="m"><tspan x="82.0" class="n">Whey Protein Powder</tspan><tspan x="164.3">100</tspan><tspan x="175.2">N/A</tspan><tspan x="186.0">20</tspan><tspan x="196.6">0</tspan><tspan x="207.8">0</tspan><tspan x="218.8">0</tspan><tspan x="229.5">45</tspan><tspan x="240.2">50</tspan><tspan x="251.2">2</tspan><tspan x="262.0">N/A</tspan><tspan x="272.8">0</tspan><tspan x="283.8">0</tspan><tspan x="294.3">N/A</tspan><tspan x="305.6">22</tspan><tspan x="123.52" dy="-1.51" class="s">1,2</tspan></text><text y="536.61" class="m"><tspan x="82.0" class="n" style="fill:#b06a9a">Almonds</tspan><tspan x="164.3">90</tspan><tspan x="175.2">N/A</tspan><tspan x="186.0">70</tspan><tspan x="196.6">0.5</tspan><tspan x="207.8">0</tspan><tspan x="218.8">0</tspan><tspan x="229.5">0</tspan><tspan x="240.2">0</tspan><tspan x="251.2">3</tspan><tspan x="262.0">N/A</tspan><tspan x="272.8">2</tspan><tspan x="283.8">0</tspan><tspan x="294.3">N/A</tspan><tspan x="305.6">3</tspan><tspan x="99.24" dy="-1.51" class="s">5</tspan></text><text y="542.03" class="m"><tspan x="82.0" class="n">Chia Seeds</tspan><tspan x="164.3">45</tspan><tspan x="175.2">N/A</tspan><tspan x="186.0">25</tspan><tspan x="196.6">2.5</tspan><tspan x="207.8">0</tspan><tspan x="218.8">0</tspan><tspan x="229.5">0</tspan><tspan x="240.2">0</tspan><tspan x="251.2">4</tspan><tspan x="262.0">N/A</tspan><tspan x="272.8">3</tspan><tspan x="283.8">0</tspan><tspan x="294.3">N/A</tspan><tspan x="305.6">1</tspan></text><text y="547.45" class="m"><tspan x="82.0" class="n">Ground Flaxseed</tspan><tspan x="164.3">30</tspan><tspan x="175.2">N/A</tspan><tspan x="186.0">25</tspan><tspan x="196.6">0</tspan><tspan x="207.8">0</tspan><tspan x="218.8">0</tspan><tspan x="229.5">0</tspan><tspan x="240.2">0</tspan><tspan x="251.2">1</tspan><tspan x="262.0">N/A</tspan><tspan x="272.8">1</tspan><tspan x="283.8">0</tspan><tspan x="294.3">N/A</tspan><tspan x="305.6">1</tspan></text><text y="552.87" class="m"><tspan x="82.0" class="n">Ginger</tspan><tspan x="164.3">0</tspan><tspan x="175.2">N/A</tspan><tspan x="186.0">0</tspan><tspan x="196.6">0</tspan><tspan x="207.8">0</tspan><tspan x="218.8">0</tspan><tspan x="229.5">0</tspan><tspan x="240.2">0</tspan><tspan x="251.2">1</tspan><tspan x="262.0">N/A</tspan><tspan x="272.8">0</tspan><tspan x="283.8">0</tspan><tspan x="294.3">N/A</tspan><tspan x="305.6">0</tspan></text><text y="558.29" class="m"><tspan x="82.0" class="n">Matcha Green Tea</tspan><tspan x="164.3">15</tspan><tspan x="175.2">N/A</tspan><tspan x="186.0">0</tspan><tspan x="196.6">0</tspan><tspan x="207.8">0</tspan><tspan x="218.8">0</tspan><tspan x="229.5">0</tspan><tspan x="240.2">0</tspan><tspan x="251.2">4</tspan><tspan x="262.0">N/A</tspan><tspan x="272.8">0</tspan><tspan x="283.8">4</tspan><tspan x="294.3">N/A</tspan><tspan x="305.6">0</tspan><tspan x="117.38" dy="-1.51" class="s">3</tspan></text><text y="563.71" class="m"><tspan x="82.0" class="n">Peanut Butter</tspan><tspan x="164.3">190</tspan><tspan x="175.2">N/A</tspan><tspan x="186.0">130</tspan><tspan x="196.6">16</tspan><tspan x="207.8">0</tspan><tspan x="218.8">0</tspan><tspan x="229.5">0</tspan><tspan x="240.2">150</tspan><tspan x="251.2">8</tspan><tspan x="262.0">N/A</tspan><tspan x="272.8">2</tspan><tspan x="283.8">3</tspan><tspan x="294.3">N/A</tspan><tspan x="305.6">7</tspan><tspan x="108.58" dy="-1.51" class="s">5,6</tspan></text><text y="569.13" class="m"><tspan x="82.0" class="n">Spinach &amp; Kale Super Pack</tspan><tspan x="164.3">15</tspan><tspan x="175.2">N/A</tspan><tspan x="186.0">0</tspan><tspan x="196.6">0</tspan><tspan x="207.8">0</tspan><tspan x="218.8">0</tspan><tspan x="229.5">0</tspan><tspan x="240.2">30</tspan><tspan x="251.2">2</tspan><tspan x="262.0">N/A</tspan><tspan x="272.8">1</tspan><tspan x="283.8">0</tspan><tspan x="294.3">N/A</tspan><tspan x="305.6">1</tspan></text><text y="574.55" class="m"><tspan x="82.0" class="n">Whole-Grain Oats</tspan><tspan x="164.3">70</tspan><tspan x="175.2">N/A</tspan><tspan x="186.0">0</tspan><tspan x="196.6">0.5</tspan><tspan x="207.8">0</tspan><tspan x="218.8">0</tspan><tspan x="229.5">0</tspan><tspan x="240.2">0</tspan><tspan x="251.2">13</tspan><tspan x="262.0">N/A</tspan><tspan x="272.8">2</tspan><tspan x="283.8">0</tspan><tspan x="294.3">N/A</tspan><tspan x="305.6">3</tspan><tspan x="116.51" dy="-1.51" class="s">2</tspan></text></g></g></svg>
<svg width="800" height="600" viewBox="0 0 800 600"><circle cx="562.70" cy="2.80" r="1.70" fill="#8c5634"/><circle cx="562.70" cy="2.80" r="0.58" fill="#e4c3a2"/><path d="M546.50 12.14 L560.00 12.14" stroke="#b7a08e" stroke-width="1.0"/><circle cx="545.80" cy="12.14" r="1.60" fill="#8a6a58"/><circle cx="562.60" cy="12.34" r="1.00" fill="#8d9a2e"/><path d="M546.50 23.50 L560.00 23.50" stroke="#b7a08e" stroke-width="1.0"/><circle cx="545.80" cy="23.50" r="1.60" fill="#8a6a58"/><circle cx="562.60" cy="23.70" r="1.00" fill="#8d9a2e"/><path d="M546.50 28.16 L560.00 28.16" stroke="#b7a08e" stroke-width="1.0"/><circle cx="545.80" cy="28.16" r="1.60" fill="#8a6a58"/><circle cx="562.60" cy="28.36" r="1.00" fill="#8d9a2e"/><path d="M546.50 32.83 L560.00 32.83" stroke="#b7a08e" stroke-width="1.0"/><circle cx="545.80" cy="32.83" r="1.60" fill="#8a6a58"/><circle cx="562.60" cy="33.03" r="1.00" fill="#8d9a2e"/><circle cx="562.70" cy="37.50" r="1.70" fill="#8c5634"/><circle cx="562.70" cy="37.50" r="0.58" fill="#e4c3a2"/><rect x="556.45" y="35.95" width="3.10" height="3.10" rx="0.7" fill="#555558"/><path d="M557.30 38.27 L558.70 36.73" stroke="#e6e6e6" stroke-width="0.7"/><path d="M546.50 46.84 L560.00 46.84" stroke="#b7a08e" stroke-width="1.0"/><circle cx="545.80" cy="46.84" r="1.60" fill="#8a6a58"/><circle cx="562.60" cy="47.04" r="1.00" fill="#8d9a2e"/><circle cx="562.60" cy="99.79" r="1.00" fill="#8d9a2e"/><path d="M546.50 104.26 L560.00 104.26" stroke="#b7a08e" stroke-width="1.0"/><circle cx="545.80" cy="104.26" r="1.60" fill="#8a6a58"/><circle cx="562.60" cy="104.46" r="1.00" fill="#8d9a2e"/><circle cx="562.60" cy="109.12" r="1.00" fill="#8d9a2e"/><circle cx="562.70" cy="120.28" r="1.70" fill="#8c5634"/><circle cx="562.70" cy="120.28" r="0.58" fill="#e4c3a2"/><path d="M546.50 124.95 L560.00 124.95" stroke="#b7a08e" stroke-width="1.0"/><circle cx="545.80" cy="124.95" r="1.60" fill="#8a6a58"/><circle cx="562.60" cy="125.15" r="1.00" fill="#8d9a2e"/><circle cx="562.70" cy="150.32" r="1.70" fill="#8c5634"/><circle cx="562.70" cy="150.32" r="0.58" fill="#e4c3a2"/><path d="M546.50 154.98 L560.00 154.98" stroke="#b7a08e" stroke-width="1.0"/><circle cx="545.80" cy="154.98" r="1.60" fill="#8a6a58"/><circle cx="562.60" cy="155.18" r="1.00" fill="#8d9a2e"/><circle cx="562.70" cy="166.34" r="1.70" fill="#8c5634"/><circle cx="562.70" cy="166.34" r="0.58" fill="#e4c3a2"/><rect x="556.45" y="164.79" width="3.10" height="3.10" rx="0.7" fill="#555558"/><path d="M557.30 167.12 L558.70 165.57" stroke="#e6e6e6" stroke-width="0.7"/><circle cx="562.70" cy="171.01" r="1.70" fill="#8c5634"/><circle cx="562.70" cy="171.01" r="0.58" fill="#e4c3a2"/><rect x="556.45" y="169.46" width="3.10" height="3.10" rx="0.7" fill="#555558"/><path d="M557.30 171.79 L558.70 170.24" stroke="#e6e6e6" stroke-width="0.7"/><circle cx="562.70" cy="175.68" r="1.70" fill="#8c5634"/><circle cx="562.70" cy="175.68" r="0.58" fill="#e4c3a2"/><rect x="556.45" y="174.13" width="3.10" height="3.10" rx="0.7" fill="#555558"/><path d="M557.30 176.46 L558.70 174.91" stroke="#e6e6e6" stroke-width="0.7"/><rect x="560.95" y="178.80" width="3.10" height="3.10" rx="0.7" fill="#555558"/><path d="M561.80 181.12 L563.20 179.57" stroke="#e6e6e6" stroke-width="0.7"/><rect x="560.95" y="197.47" width="3.10" height="3.10" rx="0.7" fill="#555558"/><path d="M561.80 199.80 L563.20 198.25" stroke="#e6e6e6" stroke-width="0.7"/><circle cx="562.70" cy="215.05" r="1.70" fill="#8c5634"/><circle cx="562.70" cy="215.05" r="0.58" fill="#e4c3a2"/><circle cx="562.70" cy="219.72" r="1.70" fill="#8c5634"/><circle cx="562.70" cy="219.72" r="0.58" fill="#e4c3a2"/><circle cx="562.70" cy="231.08" r="1.70" fill="#8c5634"/><circle cx="562.70" cy="231.08" r="0.58" fill="#e4c3a2"/><rect x="556.45" y="229.53" width="3.10" height="3.10" rx="0.7" fill="#555558"/><path d="M557.30 231.85 L558.70 230.30" stroke="#e6e6e6" stroke-width="0.7"/><circle cx="562.70" cy="235.74" r="1.70" fill="#8c5634"/><circle cx="562.70" cy="235.74" r="0.58" fill="#e4c3a2"/><rect x="556.45" y="234.19" width="3.10" height="3.10" rx="0.7" fill="#555558"/><path d="M557.30 236.52 L558.70 234.97" stroke="#e6e6e6" stroke-width="0.7"/><circle cx="562.70" cy="240.41" r="1.70" fill="#8c5634"/><circle cx="562.70" cy="240.41" r="0.58" fill="#e4c3a2"/><rect x="556.45" y="238.86" width="3.10" height="3.10" rx="0.7" fill="#555558"/><path d="M557.30 241.19 L558.70 239.64" stroke="#e6e6e6" stroke-width="0.7"/><circle cx="562.70" cy="245.08" r="1.70" fill="#8c5634"/><circle cx="562.70" cy="245.08" r="0.58" fill="#e4c3a2"/><rect x="556.45" y="243.53" width="3.10" height="3.10" rx="0.7" fill="#555558"/><path d="M557.30 245.86 L558.70 244.31" stroke="#e6e6e6" stroke-width="0.7"/><circle cx="562.70" cy="249.75" r="1.70" fill="#8c5634"/><circle cx="562.70" cy="249.75" r="0.58" fill="#e4c3a2"/><rect x="556.45" y="248.20" width="3.10" height="3.10" rx="0.7" fill="#555558"/><path d="M557.30 250.52 L558.70 248.97" stroke="#e6e6e6" stroke-width="0.7"/><circle cx="562.70" cy="254.42" r="1.70" fill="#8c5634"/><circle cx="562.70" cy="254.42" r="0.58" fill="#e4c3a2"/><rect x="556.45" y="252.87" width="3.10" height="3.10" rx="0.7" fill="#555558"/><path d="M557.30 255.19 L558.70 253.64" stroke="#e6e6e6" stroke-width="0.7"/><circle cx="562.70" cy="259.08" r="1.70" fill="#8c5634"/><circle cx="562.70" cy="259.08" r="0.58" fill="#e4c3a2"/><rect x="556.45" y="257.53" width="3.10" height="3.10" rx="0.7" fill="#555558"/><path d="M557.30 259.86 L558.70 258.31" stroke="#e6e6e6" stroke-width="0.7"/><circle cx="562.70" cy="263.75" r="1.70" fill="#8c5634"/><circle cx="562.70" cy="263.75" r="0.58" fill="#e4c3a2"/><rect x="556.45" y="262.20" width="3.10" height="3.10" rx="0.7" fill="#555558"/><path d="M557.30 264.53 L558.70 262.98" stroke="#e6e6e6" stroke-width="0.7"/><circle cx="562.70" cy="268.42" r="1.70" fill="#8c5634"/><circle cx="562.70" cy="268.42" r="0.58" fill="#e4c3a2"/><rect x="556.45" y="266.87" width="3.10" height="3.10" rx="0.7" fill="#555558"/><path d="M557.30 269.20 L558.70 267.65" stroke="#e6e6e6" stroke-width="0.7"/><circle cx="562.70" cy="273.09" r="1.70" fill="#8c5634"/><circle cx="562.70" cy="273.09" r="0.58" fill="#e4c3a2"/><rect x="556.45" y="271.54" width="3.10" height="3.10" rx="0.7" fill="#555558"/><path d="M557.30 273.86 L558.70 272.31" stroke="#e6e6e6" stroke-width="0.7"/><circle cx="562.70" cy="277.76" r="1.70" fill="#8c5634"/><circle cx="562.70" cy="277.76" r="0.58" fill="#e4c3a2"/><rect x="556.45" y="276.21" width="3.10" height="3.10" rx="0.7" fill="#555558"/><path d="M557.30 278.53 L558.70 276.98" stroke="#e6e6e6" stroke-width="0.7"/><circle cx="562.70" cy="282.42" r="1.70" fill="#8c5634"/><circle cx="562.70" cy="282.42" r="0.58" fill="#e4c3a2"/><rect x="556.45" y="280.87" width="3.10" height="3.10" rx="0.7" fill="#555558"/><path d="M557.30 283.20 L558.70 281.65" stroke="#e6e6e6" stroke-width="0.7"/><circle cx="562.70" cy="287.09" r="1.70" fill="#8c5634"/><circle cx="562.70" cy="287.09" r="0.58" fill="#e4c3a2"/><rect x="556.45" y="285.54" width="3.10" height="3.10" rx="0.7" fill="#555558"/><path d="M557.30 287.87 L558.70 286.32" stroke="#e6e6e6" stroke-width="0.7"/><circle cx="562.70" cy="291.76" r="1.70" fill="#8c5634"/><circle cx="562.70" cy="291.76" r="0.58" fill="#e4c3a2"/><rect x="556.45" y="290.21" width="3.10" height="3.10" rx="0.7" fill="#555558"/><path d="M557.30 292.54 L558.70 290.99" stroke="#e6e6e6" stroke-width="0.7"/><circle cx="562.70" cy="296.43" r="1.70" fill="#8c5634"/><circle cx="562.70" cy="296.43" r="0.58" fill="#e4c3a2"/><rect x="556.45" y="294.88" width="3.10" height="3.10" rx="0.7" fill="#555558"/><path d="M557.30 297.20 L558.70 295.65" stroke="#e6e6e6" stroke-width="0.7"/><circle cx="70.30" cy="301.40" r="1.60" fill="#8c5634"/><circle cx="70.30" cy="301.40" r="0.54" fill="#e4c3a2"/><rect x="64.15" y="299.85" width="3.10" height="3.10" rx="0.7" fill="#555558"/><path d="M65.00 302.17 L66.40 300.62" stroke="#e6e6e6" stroke-width="0.7"/><circle cx="70.30" cy="306.84" r="1.60" fill="#8c5634"/><circle cx="70.30" cy="306.84" r="0.54" fill="#e4c3a2"/><rect x="64.15" y="305.29" width="3.10" height="3.10" rx="0.7" fill="#555558"/><path d="M65.00 307.61 L66.40 306.06" stroke="#e6e6e6" stroke-width="0.7"/><circle cx="70.30" cy="312.27" r="1.60" fill="#8c5634"/><circle cx="70.30" cy="312.27" r="0.54" fill="#e4c3a2"/><circle cx="70.30" cy="317.71" r="1.60" fill="#8c5634"/><circle cx="70.30" cy="317.71" r="0.54" fill="#e4c3a2"/><circle cx="70.30" cy="323.14" r="1.60" fill="#8c5634"/><circle cx="70.30" cy="323.14" r="0.54" fill="#e4c3a2"/><rect x="64.15" y="321.59" width="3.10" height="3.10" rx="0.7" fill="#555558"/><path d="M65.00 323.92 L66.40 322.37" stroke="#e6e6e6" stroke-width="0.7"/><circle cx="70.30" cy="328.58" r="1.60" fill="#8c5634"/><circle cx="70.30" cy="328.58" r="0.54" fill="#e4c3a2"/><rect x="64.15" y="327.03" width="3.10" height="3.10" rx="0.7" fill="#555558"/><path d="M65.00 329.35 L66.40 327.81" stroke="#e6e6e6" stroke-width="0.7"/><circle cx="70.30" cy="334.02" r="1.60" fill="#8c5634"/><circle cx="70.30" cy="334.02" r="0.54" fill="#e4c3a2"/><circle cx="70.30" cy="339.45" r="1.60" fill="#8c5634"/><circle cx="70.30" cy="339.45" r="0.54" fill="#e4c3a2"/><circle cx="70.30" cy="344.89" r="1.60" fill="#8c5634"/><circle cx="70.30" cy="344.89" r="0.54" fill="#e4c3a2"/><rect x="64.15" y="343.34" width="3.10" height="3.10" rx="0.7" fill="#555558"/><path d="M65.00 345.66 L66.40 344.11" stroke="#e6e6e6" stroke-width="0.7"/><circle cx="70.30" cy="350.32" r="1.60" fill="#8c5634"/><circle cx="70.30" cy="350.32" r="0.54" fill="#e4c3a2"/><rect x="64.15" y="348.77" width="3.10" height="3.10" rx="0.7" fill="#555558"/><path d="M65.00 351.10 L66.40 349.55" stroke="#e6e6e6" stroke-width="0.7"/><circle cx="70.30" cy="355.76" r="1.60" fill="#8c5634"/><circle cx="70.30" cy="355.76" r="0.54" fill="#e4c3a2"/><rect x="64.15" y="354.21" width="3.10" height="3.10" rx="0.7" fill="#555558"/><path d="M65.00 356.53 L66.40 354.99" stroke="#e6e6e6" stroke-width="0.7"/><circle cx="70.30" cy="361.20" r="1.60" fill="#8c5634"/><circle cx="70.30" cy="361.20" r="0.54" fill="#e4c3a2"/><rect x="64.15" y="359.65" width="3.10" height="3.10" rx="0.7" fill="#555558"/><path d="M65.00 361.97 L66.40 360.42" stroke="#e6e6e6" stroke-width="0.7"/><circle cx="70.30" cy="366.63" r="1.60" fill="#8c5634"/><circle cx="70.30" cy="366.63" r="0.54" fill="#e4c3a2"/><rect x="64.15" y="365.08" width="3.10" height="3.10" rx="0.7" fill="#555558"/><path d="M65.00 367.41 L66.40 365.86" stroke="#e6e6e6" stroke-width="0.7"/><circle cx="70.30" cy="372.07" r="1.60" fill="#8c5634"/><circle cx="70.30" cy="372.07" r="0.54" fill="#e4c3a2"/><rect x="64.15" y="370.52" width="3.10" height="3.10" rx="0.7" fill="#555558"/><path d="M65.00 372.84 L66.40 371.29" stroke="#e6e6e6" stroke-width="0.7"/><circle cx="70.30" cy="377.50" r="1.60" fill="#8c5634"/><circle cx="70.30" cy="377.50" r="0.54" fill="#e4c3a2"/><circle cx="70.30" cy="382.94" r="1.60" fill="#8c5634"/><circle cx="70.30" cy="382.94" r="0.54" fill="#e4c3a2"/><rect x="64.15" y="381.39" width="3.10" height="3.10" rx="0.7" fill="#555558"/><path d="M65.00 383.71 L66.40 382.16" stroke="#e6e6e6" stroke-width="0.7"/><circle cx="70.30" cy="388.38" r="1.60" fill="#8c5634"/><circle cx="70.30" cy="388.38" r="0.54" fill="#e4c3a2"/><circle cx="70.30" cy="393.81" r="1.60" fill="#8c5634"/><circle cx="70.30" cy="393.81" r="0.54" fill="#e4c3a2"/><rect x="64.15" y="392.26" width="3.10" height="3.10" rx="0.7" fill="#555558"/><path d="M65.00 394.59 L66.40 393.04" stroke="#e6e6e6" stroke-width="0.7"/><circle cx="70.30" cy="399.25" r="1.60" fill="#8c5634"/><circle cx="70.30" cy="399.25" r="0.54" fill="#e4c3a2"/><rect x="64.15" y="397.70" width="3.10" height="3.10" rx="0.7" fill="#555558"/><path d="M65.00 400.02 L66.40 398.47" stroke="#e6e6e6" stroke-width="0.7"/><circle cx="70.30" cy="404.68" r="1.60" fill="#8c5634"/><circle cx="70.30" cy="404.68" r="0.54" fill="#e4c3a2"/><rect x="64.15" y="403.13" width="3.10" height="3.10" rx="0.7" fill="#555558"/><path d="M65.00 405.46 L66.40 403.91" stroke="#e6e6e6" stroke-width="0.7"/><circle cx="70.30" cy="410.12" r="1.60" fill="#8c5634"/><circle cx="70.30" cy="410.12" r="0.54" fill="#e4c3a2"/><rect x="64.15" y="408.57" width="3.10" height="3.10" rx="0.7" fill="#555558"/><path d="M65.00 410.89 L66.40 409.35" stroke="#e6e6e6" stroke-width="0.7"/><circle cx="70.30" cy="415.56" r="1.60" fill="#8c5634"/><circle cx="70.30" cy="415.56" r="0.54" fill="#e4c3a2"/><rect x="64.15" y="414.01" width="3.10" height="3.10" rx="0.7" fill="#555558"/><path d="M65.00 416.33 L66.40 414.78" stroke="#e6e6e6" stroke-width="0.7"/><circle cx="70.30" cy="420.99" r="1.60" fill="#8c5634"/><circle cx="70.30" cy="420.99" r="0.54" fill="#e4c3a2"/><circle cx="70.30" cy="433.50" r="1.60" fill="#8c5634"/><circle cx="70.30" cy="433.50" r="0.54" fill="#e4c3a2"/><circle cx="70.30" cy="438.93" r="1.60" fill="#8c5634"/><circle cx="70.30" cy="438.93" r="0.54" fill="#e4c3a2"/><rect x="64.15" y="437.38" width="3.10" height="3.10" rx="0.7" fill="#555558"/><path d="M65.00 439.70 L66.40 438.16" stroke="#e6e6e6" stroke-width="0.7"/><circle cx="70.30" cy="444.36" r="1.60" fill="#8c5634"/><circle cx="70.30" cy="444.36" r="0.54" fill="#e4c3a2"/><rect x="64.15" y="442.81" width="3.10" height="3.10" rx="0.7" fill="#555558"/><path d="M65.00 445.13 L66.40 443.59" stroke="#e6e6e6" stroke-width="0.7"/><circle cx="70.30" cy="456.40" r="1.60" fill="#8c5634"/><circle cx="70.30" cy="456.40" r="0.54" fill="#e4c3a2"/><circle cx="70.30" cy="461.83" r="1.60" fill="#8c5634"/><circle cx="70.30" cy="461.83" r="0.54" fill="#e4c3a2"/><rect x="64.15" y="460.28" width="3.10" height="3.10" rx="0.7" fill="#555558"/><path d="M65.00 462.60 L66.40 461.06" stroke="#e6e6e6" stroke-width="0.7"/><circle cx="70.30" cy="467.26" r="1.60" fill="#8c5634"/><circle cx="70.30" cy="467.26" r="0.54" fill="#e4c3a2"/><rect x="64.15" y="465.71" width="3.10" height="3.10" rx="0.7" fill="#555558"/><path d="M65.00 468.03 L66.40 466.49" stroke="#e6e6e6" stroke-width="0.7"/><circle cx="70.30" cy="479.40" r="1.60" fill="#8c5634"/><circle cx="70.30" cy="479.40" r="0.54" fill="#e4c3a2"/><rect x="64.15" y="477.85" width="3.10" height="3.10" rx="0.7" fill="#555558"/><path d="M65.00 480.17 L66.40 478.62" stroke="#e6e6e6" stroke-width="0.7"/><circle cx="70.30" cy="484.83" r="1.60" fill="#8c5634"/><circle cx="70.30" cy="484.83" r="0.54" fill="#e4c3a2"/><rect x="64.15" y="483.28" width="3.10" height="3.10" rx="0.7" fill="#555558"/><path d="M65.00 485.60 L66.40 484.06" stroke="#e6e6e6" stroke-width="0.7"/><circle cx="70.30" cy="490.26" r="1.60" fill="#8c5634"/><circle cx="70.30" cy="490.26" r="0.54" fill="#e4c3a2"/><rect x="64.15" y="488.71" width="3.10" height="3.10" rx="0.7" fill="#555558"/><path d="M65.00 491.03 L66.40 489.49" stroke="#e6e6e6" stroke-width="0.7"/><circle cx="70.30" cy="495.69" r="1.60" fill="#8c5634"/><circle cx="70.30" cy="495.69" r="0.54" fill="#e4c3a2"/><rect x="64.15" y="494.14" width="3.10" height="3.10" rx="0.7" fill="#555558"/><path d="M65.00 496.46 L66.40 494.92" stroke="#e6e6e6" stroke-width="0.7"/><circle cx="70.30" cy="501.12" r="1.60" fill="#8c5634"/><circle cx="70.30" cy="501.12" r="0.54" fill="#e4c3a2"/><rect x="64.15" y="499.57" width="3.10" height="3.10" rx="0.7" fill="#555558"/><path d="M65.00 501.89 L66.40 500.35" stroke="#e6e6e6" stroke-width="0.7"/><circle cx="70.30" cy="506.55" r="1.60" fill="#8c5634"/><circle cx="70.30" cy="506.55" r="0.54" fill="#e4c3a2"/><rect x="64.15" y="505.00" width="3.10" height="3.10" rx="0.7" fill="#555558"/><path d="M65.00 507.32 L66.40 505.77" stroke="#e6e6e6" stroke-width="0.7"/><circle cx="70.30" cy="511.98" r="1.60" fill="#8c5634"/><circle cx="70.30" cy="511.98" r="0.54" fill="#e4c3a2"/><rect x="64.15" y="510.43" width="3.10" height="3.10" rx="0.7" fill="#555558"/><path d="M65.00 512.75 L66.40 511.20" stroke="#e6e6e6" stroke-width="0.7"/><circle cx="70.30" cy="517.41" r="1.60" fill="#8c5634"/><circle cx="70.30" cy="517.41" r="0.54" fill="#e4c3a2"/><rect x="64.15" y="515.86" width="3.10" height="3.10" rx="0.7" fill="#555558"/><path d="M65.00 518.18 L66.40 516.63" stroke="#e6e6e6" stroke-width="0.7"/><circle cx="70.30" cy="522.84" r="1.60" fill="#8c5634"/><circle cx="70.30" cy="522.84" r="0.54" fill="#e4c3a2"/><rect x="64.15" y="521.29" width="3.10" height="3.10" rx="0.7" fill="#555558"/><path d="M65.00 523.61 L66.40 522.06" stroke="#e6e6e6" stroke-width="0.7"/><circle cx="70.30" cy="535.20" r="1.60" fill="#8c5634"/><circle cx="70.30" cy="535.20" r="0.54" fill="#e4c3a2"/><rect x="64.15" y="533.65" width="3.10" height="3.10" rx="0.7" fill="#555558"/><path d="M65.00 535.98 L66.40 534.43" stroke="#e6e6e6" stroke-width="0.7"/><circle cx="70.30" cy="540.62" r="1.60" fill="#8c5634"/><circle cx="70.30" cy="540.62" r="0.54" fill="#e4c3a2"/><circle cx="70.30" cy="546.04" r="1.60" fill="#8c5634"/><circle cx="70.30" cy="546.04" r="0.54" fill="#e4c3a2"/><rect x="64.15" y="544.49" width="3.10" height="3.10" rx="0.7" fill="#555558"/><path d="M65.00 546.82 L66.40 545.27" stroke="#e6e6e6" stroke-width="0.7"/><circle cx="70.30" cy="551.46" r="1.60" fill="#8c5634"/><circle cx="70.30" cy="551.46" r="0.54" fill="#e4c3a2"/><rect x="64.15" y="549.91" width="3.10" height="3.10" rx="0.7" fill="#555558"/><path d="M65.00 552.24 L66.40 550.69" stroke="#e6e6e6" stroke-width="0.7"/><circle cx="70.30" cy="556.88" r="1.60" fill="#8c5634"/><circle cx="70.30" cy="556.88" r="0.54" fill="#e4c3a2"/><rect x="64.15" y="555.33" width="3.10" height="3.10" rx="0.7" fill="#555558"/><path d="M65.00 557.65 L66.40 556.11" stroke="#e6e6e6" stroke-width="0.7"/><circle cx="70.30" cy="562.30" r="1.60" fill="#8c5634"/><circle cx="70.30" cy="562.30" r="0.54" fill="#e4c3a2"/><rect x="64.15" y="560.75" width="3.10" height="3.10" rx="0.7" fill="#555558"/><path d="M65.00 563.08 L66.40 561.53" stroke="#e6e6e6" stroke-width="0.7"/><circle cx="70.30" cy="567.72" r="1.60" fill="#8c5634"/><circle cx="70.30" cy="567.72" r="0.54" fill="#e4c3a2"/><rect x="64.15" y="566.17" width="3.10" height="3.10" rx="0.7" fill="#555558"/><path d="M65.00 568.50 L66.40 566.95" stroke="#e6e6e6" stroke-width="0.7"/><circle cx="70.30" cy="573.14" r="1.60" fill="#8c5634"/><circle cx="70.30" cy="573.14" r="0.54" fill="#e4c3a2"/><circle cx="146.00" cy="583.00" r="3.20" fill="#b4602f"/><path d="M144.4 581.6 L146 584.6 L147.6 581.6" stroke="#fff" stroke-width="0.9" fill="none"/><circle cx="207.20" cy="583.00" r="3.20" fill="#555558"/><circle cx="207.20" cy="583.00" r="1.95" fill="#e4e4e4"/><path d="M205.7 585.0 L208.7 581.0" stroke="#555558" stroke-width="1.1"/></svg>
</div></body></html>
